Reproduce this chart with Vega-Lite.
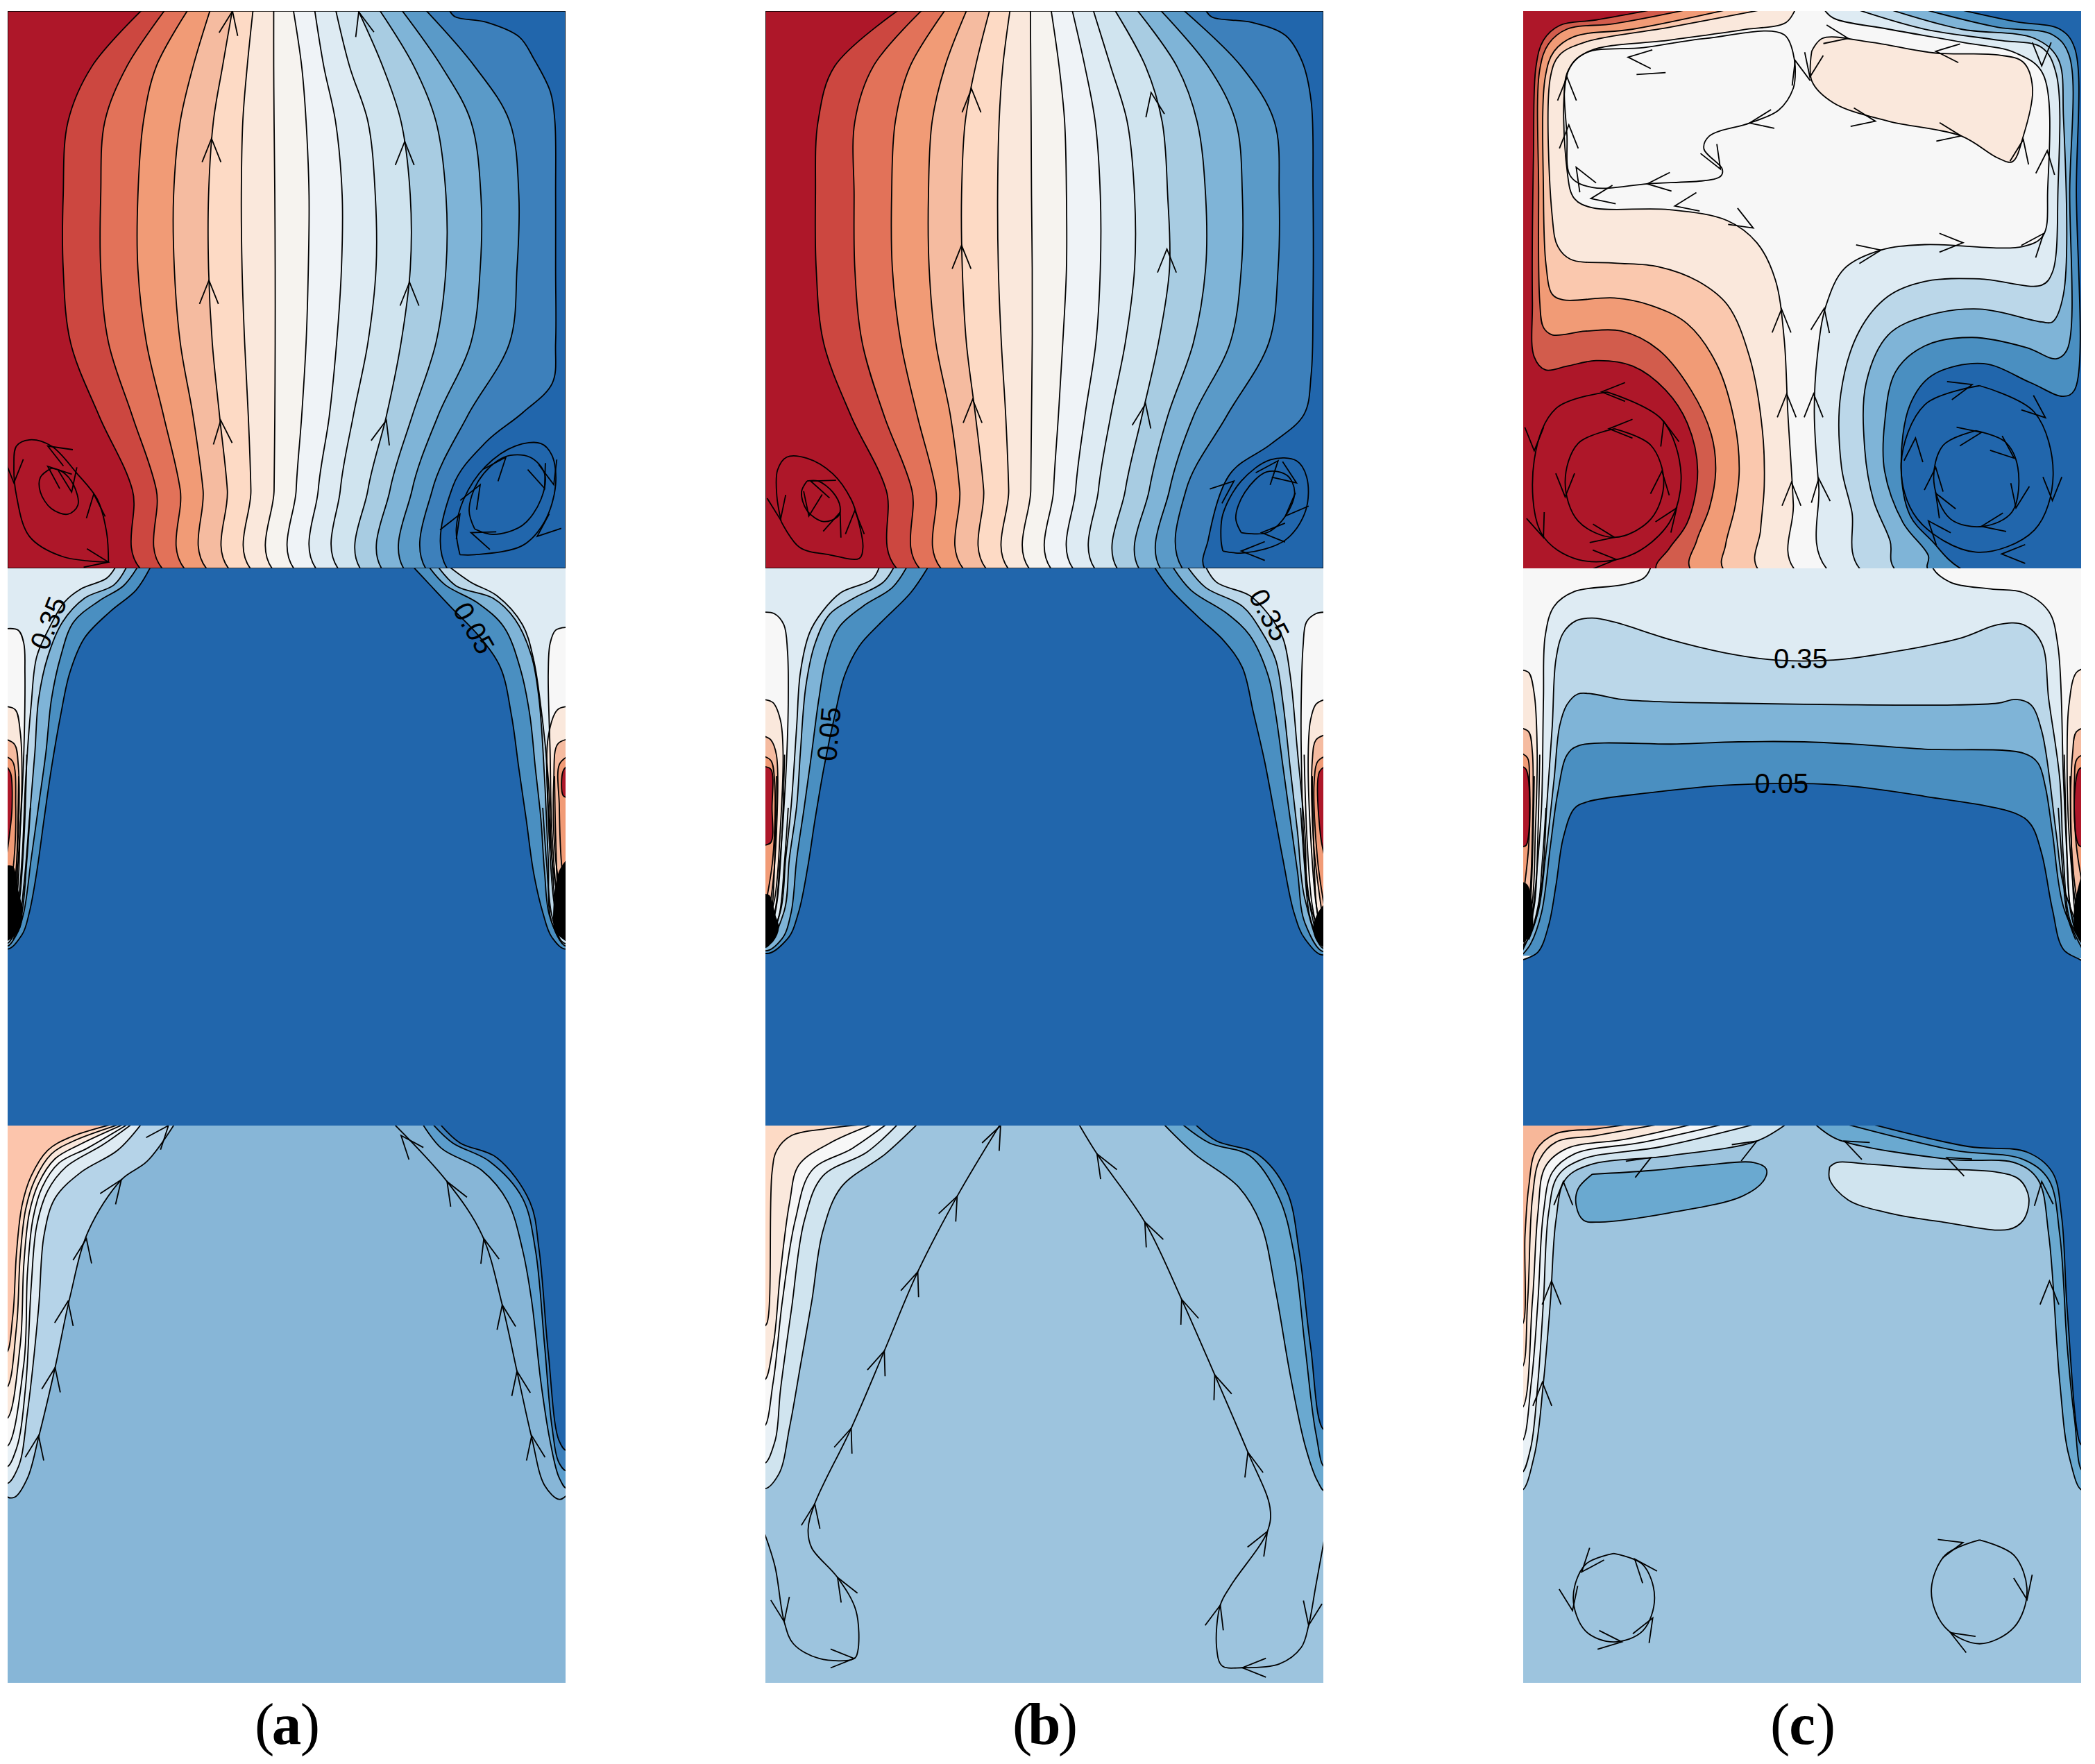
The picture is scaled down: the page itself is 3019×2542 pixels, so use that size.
{"$schema":"https://vega.github.io/schema/vega-lite/v6.json","padding":{"left":11,"top":16,"right":0,"bottom":0},"background":"white",
"datasets":{"lines":[
{"l":"A0","p":"1a","k":"r1"},{"l":"A1","p":"1a","k":"r2"},{"l":"A2","p":"1a","k":"r3"},{"l":"A3","p":"1a","k":"r4"},{"l":"A4","p":"1a","k":"r5"},{"l":"A5","p":"1a","k":"r6"},{"l":"A6","p":"1a","k":"r7"},{"l":"A7","p":"1a","k":"w"},{"l":"A8","p":"1a","k":"b7"},{"l":"A9","p":"1a","k":"b6"},{"l":"A10","p":"1a","k":"b5"},{"l":"A11","p":"1a","k":"b4"},{"l":"A12","p":"1a","k":"b3"},{"l":"A13","p":"1a","k":"b2"},{"l":"A14","p":"1a","k":"b1"},{"l":"A15","p":"1a","k":"b0"},{"l":"As1","p":"1a","k":"_s"},{"l":"As2","p":"1a","k":"_s"},{"l":"As3","p":"1a","k":"_s"},{"l":"As4","p":"1a","k":"_s"},{"l":"Aa","p":"1a","k":"_a"},{"l":"Ax","p":"1a","k":"_x"},
{"l":"B0","p":"1b","k":"r1"},{"l":"B1","p":"1b","k":"r2"},{"l":"B2","p":"1b","k":"r3"},{"l":"B3","p":"1b","k":"r4"},{"l":"B4","p":"1b","k":"r5"},{"l":"B5","p":"1b","k":"r6"},{"l":"B6","p":"1b","k":"r7"},{"l":"B7","p":"1b","k":"w"},{"l":"B8","p":"1b","k":"b7"},{"l":"B9","p":"1b","k":"b6"},{"l":"B10","p":"1b","k":"b5"},{"l":"B11","p":"1b","k":"b4"},{"l":"B12","p":"1b","k":"b3"},{"l":"B13","p":"1b","k":"b2"},{"l":"B14","p":"1b","k":"b1"},{"l":"B15","p":"1b","k":"b0"},{"l":"Bs1","p":"1b","k":"_s"},{"l":"Bs2","p":"1b","k":"_s"},{"l":"Bs3","p":"1b","k":"_s"},{"l":"Bs4","p":"1b","k":"_s"},{"l":"Ba","p":"1b","k":"_a"},{"l":"Bx","p":"1b","k":"_x"},
{"l":"C0","p":"1c","k":"r1"},{"l":"C1","p":"1c","k":"r2c"},{"l":"C2","p":"1c","k":"r4"},{"l":"C3","p":"1c","k":"p3"},{"l":"C4","p":"1c","k":"r7"},{"l":"C5","p":"1c","k":"ww"},{"l":"C6","p":"1c","k":"b6"},{"l":"C7","p":"1c","k":"b5c"},{"l":"C8","p":"1c","k":"b3"},{"l":"C9","p":"1c","k":"b1c"},{"l":"C10","p":"1c","k":"b0"},{"l":"C11","p":"1c","k":"r7"},{"l":"Cs1","p":"1c","k":"_s"},{"l":"Cs2","p":"1c","k":"_s"},{"l":"Cs3","p":"1c","k":"_s"},{"l":"Cs4","p":"1c","k":"_s"},{"l":"Cs5","p":"1c","k":"_s"},{"l":"Cs6","p":"1c","k":"_s"},{"l":"Ca","p":"1c","k":"_a"},
{"l":"D0","p":"2a","k":"b0"},{"l":"D1","p":"2a","k":"b1c"},{"l":"D2","p":"2a","k":"b3"},{"l":"D3","p":"2a","k":"b5c"},{"l":"D4","p":"2a","k":"b6"},{"l":"D5","p":"2a","k":"ww"},{"l":"D6","p":"2a","k":"r7"},{"l":"D7","p":"2a","k":"r5"},{"l":"D8","p":"2a","k":"r4"},{"l":"D9","p":"2a","k":"r1"},{"l":"D10","p":"2a","k":"kk"},{"l":"D11","p":"2a","k":"b1c"},{"l":"D12","p":"2a","k":"b3"},{"l":"D13","p":"2a","k":"b5c"},{"l":"D14","p":"2a","k":"b6"},{"l":"D15","p":"2a","k":"ww"},{"l":"D16","p":"2a","k":"r7"},{"l":"D17","p":"2a","k":"r5"},{"l":"D18","p":"2a","k":"r4"},{"l":"D19","p":"2a","k":"r1"},{"l":"D20","p":"2a","k":"kk"},{"l":"Dt","p":"2a","k":"_t"},{"l":"Ds1","p":"2a","k":"_s"},{"l":"Ds2","p":"2a","k":"_s"},{"l":"Ds3","p":"2a","k":"_s"},{"l":"Ds4","p":"2a","k":"_s"},{"l":"Ds5","p":"2a","k":"_s"},{"l":"Ds6","p":"2a","k":"_s"},
{"l":"E0","p":"2b","k":"b0"},{"l":"E1","p":"2b","k":"b1c"},{"l":"E2","p":"2b","k":"b3"},{"l":"E3","p":"2b","k":"b5c"},{"l":"E4","p":"2b","k":"b6"},{"l":"E5","p":"2b","k":"ww"},{"l":"E6","p":"2b","k":"r7"},{"l":"E7","p":"2b","k":"r5"},{"l":"E8","p":"2b","k":"r4"},{"l":"E9","p":"2b","k":"r1"},{"l":"E10","p":"2b","k":"kk"},{"l":"E11","p":"2b","k":"b1c"},{"l":"E12","p":"2b","k":"b3"},{"l":"E13","p":"2b","k":"b5c"},{"l":"E14","p":"2b","k":"b6"},{"l":"E15","p":"2b","k":"ww"},{"l":"E16","p":"2b","k":"r7"},{"l":"E17","p":"2b","k":"r5"},{"l":"E18","p":"2b","k":"r4"},{"l":"E19","p":"2b","k":"r1"},{"l":"E20","p":"2b","k":"kk"},{"l":"Et","p":"2b","k":"_t"},{"l":"Es1","p":"2b","k":"_s"},{"l":"Es2","p":"2b","k":"_s"},{"l":"Es3","p":"2b","k":"_s"},{"l":"Es4","p":"2b","k":"_s"},{"l":"Es5","p":"2b","k":"_s"},{"l":"Es6","p":"2b","k":"_s"},
{"l":"F0","p":"2c","k":"ww"},{"l":"F1","p":"2c","k":"b6"},{"l":"F2","p":"2c","k":"b5c"},{"l":"F3","p":"2c","k":"b3"},{"l":"F4","p":"2c","k":"b1c"},{"l":"F5","p":"2c","k":"b0"},{"l":"F6","p":"2c","k":"r7"},{"l":"F7","p":"2c","k":"r5"},{"l":"F8","p":"2c","k":"r4"},{"l":"F9","p":"2c","k":"r1"},{"l":"F10","p":"2c","k":"kk"},{"l":"F11","p":"2c","k":"r7"},{"l":"F12","p":"2c","k":"r5"},{"l":"F13","p":"2c","k":"r4"},{"l":"F14","p":"2c","k":"r1"},{"l":"F15","p":"2c","k":"kk"},{"l":"Ft","p":"2c","k":"_t"},{"l":"Fs1","p":"2c","k":"_s"},{"l":"Fs2","p":"2c","k":"_s"},{"l":"Fs3","p":"2c","k":"_s"},{"l":"Fs4","p":"2c","k":"_s"},{"l":"Fs5","p":"2c","k":"_s"},{"l":"Fs6","p":"2c","k":"_s"},
{"l":"G0","p":"3a","k":"g"},{"l":"G1","p":"3a","k":"b4g"},{"l":"G2","p":"3a","k":"b6"},{"l":"G3","p":"3a","k":"e"},{"l":"G4","p":"3a","k":"ww"},{"l":"G5","p":"3a","k":"r7"},{"l":"G6","p":"3a","k":"r6"},{"l":"G7","p":"3a","k":"p1"},{"l":"G8","p":"3a","k":"m2"},{"l":"G9","p":"3a","k":"b1"},{"l":"G10","p":"3a","k":"b0"},{"l":"Gs1","p":"3a","k":"_s"},{"l":"Ga","p":"3a","k":"_a"},{"l":"Gc","p":"3a","k":"_c"},{"l":"Gb","p":"3a","k":"_b"},
{"l":"H0","p":"3b","k":"h"},{"l":"H1","p":"3b","k":"b5"},{"l":"H2","p":"3b","k":"e"},{"l":"H3","p":"3b","k":"ww"},{"l":"H4","p":"3b","k":"r7"},{"l":"H5","p":"3b","k":"r6"},{"l":"H6","p":"3b","k":"m1"},{"l":"H7","p":"3b","k":"b1c"},{"l":"H8","p":"3b","k":"b0"},{"l":"Hs1","p":"3b","k":"_s"},{"l":"Hs2","p":"3b","k":"_s"},{"l":"Ha","p":"3b","k":"_a"},{"l":"Hc","p":"3b","k":"_c"},{"l":"Hb","p":"3b","k":"_b"},
{"l":"I0","p":"3c","k":"h"},{"l":"I1","p":"3c","k":"b5"},{"l":"I2","p":"3c","k":"e"},{"l":"I3","p":"3c","k":"ww"},{"l":"I4","p":"3c","k":"r7"},{"l":"I5","p":"3c","k":"r6"},{"l":"I6","p":"3c","k":"p2"},{"l":"I7","p":"3c","k":"m1"},{"l":"I8","p":"3c","k":"b1c"},{"l":"I9","p":"3c","k":"b0"},{"l":"I10","p":"3c","k":"m1"},{"l":"I11","p":"3c","k":"b5"},{"l":"Is1","p":"3c","k":"_s"},{"l":"Is2","p":"3c","k":"_s"},{"l":"Ia","p":"3c","k":"_a"},{"l":"Ic","p":"3c","k":"_c"},{"l":"Ib","p":"3c","k":"_b"}
],
"pts":[
{"l":"A0","x":-300,"y":-300},{"l":"A0","x":1900,"y":-300},{"l":"A0","x":1900,"y":1900},{"l":"A0","x":-300,"y":1900},
{"l":"A1","x":367,"y":-5},{"l":"A1","x":229,"y":150},{"l":"A1","x":164,"y":300},{"l":"A1","x":151,"y":500},{"l":"A1","x":151,"y":700},{"l":"A1","x":171,"y":900},{"l":"A1","x":249,"y":1100},{"l":"A1","x":339,"y":1300},{"l":"A1","x":364,"y":1518},{"l":"A1","x":2000,"y":1800},{"l":"A1","x":2000,"y":-300},
{"l":"A2","x":429,"y":-5},{"l":"A2","x":324,"y":150},{"l":"A2","x":264,"y":300},{"l":"A2","x":253,"y":500},{"l":"A2","x":253,"y":700},{"l":"A2","x":274,"y":900},{"l":"A2","x":339,"y":1100},{"l":"A2","x":404,"y":1300},{"l":"A2","x":424,"y":1518},{"l":"A2","x":2000,"y":1800},{"l":"A2","x":2000,"y":-300},
{"l":"A3","x":491,"y":-5},{"l":"A3","x":404,"y":150},{"l":"A3","x":369,"y":300},{"l":"A3","x":354,"y":500},{"l":"A3","x":354,"y":700},{"l":"A3","x":377,"y":900},{"l":"A3","x":424,"y":1100},{"l":"A3","x":469,"y":1300},{"l":"A3","x":484,"y":1518},{"l":"A3","x":2000,"y":1800},{"l":"A3","x":2000,"y":-300},
{"l":"A4","x":551,"y":-5},{"l":"A4","x":504,"y":150},{"l":"A4","x":469,"y":300},{"l":"A4","x":451,"y":500},{"l":"A4","x":453,"y":700},{"l":"A4","x":469,"y":900},{"l":"A4","x":504,"y":1100},{"l":"A4","x":531,"y":1300},{"l":"A4","x":544,"y":1518},{"l":"A4","x":2000,"y":1800},{"l":"A4","x":2000,"y":-300},
{"l":"A5","x":611,"y":-5},{"l":"A5","x":584,"y":150},{"l":"A5","x":559,"y":300},{"l":"A5","x":546,"y":500},{"l":"A5","x":546,"y":700},{"l":"A5","x":556,"y":900},{"l":"A5","x":576,"y":1100},{"l":"A5","x":597,"y":1300},{"l":"A5","x":604,"y":1518},{"l":"A5","x":2000,"y":1800},{"l":"A5","x":2000,"y":-300},
{"l":"A6","x":667,"y":-5},{"l":"A6","x":651,"y":150},{"l":"A6","x":639,"y":300},{"l":"A6","x":635,"y":500},{"l":"A6","x":637,"y":700},{"l":"A6","x":644,"y":900},{"l":"A6","x":654,"y":1100},{"l":"A6","x":661,"y":1300},{"l":"A6","x":663,"y":1518},{"l":"A6","x":2000,"y":1800},{"l":"A6","x":2000,"y":-300},
{"l":"A7","x":723,"y":-5},{"l":"A7","x":723,"y":150},{"l":"A7","x":724,"y":300},{"l":"A7","x":726,"y":500},{"l":"A7","x":727,"y":700},{"l":"A7","x":727,"y":900},{"l":"A7","x":726,"y":1100},{"l":"A7","x":724,"y":1300},{"l":"A7","x":722,"y":1518},{"l":"A7","x":2000,"y":1800},{"l":"A7","x":2000,"y":-300},
{"l":"A8","x":776,"y":-5},{"l":"A8","x":799,"y":150},{"l":"A8","x":811,"y":300},{"l":"A8","x":819,"y":500},{"l":"A8","x":817,"y":700},{"l":"A8","x":811,"y":900},{"l":"A8","x":799,"y":1100},{"l":"A8","x":784,"y":1300},{"l":"A8","x":781,"y":1518},{"l":"A8","x":2000,"y":1800},{"l":"A8","x":2000,"y":-300},
{"l":"A9","x":834,"y":-5},{"l":"A9","x":859,"y":150},{"l":"A9","x":891,"y":300},{"l":"A9","x":909,"y":500},{"l":"A9","x":907,"y":700},{"l":"A9","x":894,"y":900},{"l":"A9","x":874,"y":1100},{"l":"A9","x":844,"y":1300},{"l":"A9","x":841,"y":1518},{"l":"A9","x":2000,"y":1800},{"l":"A9","x":2000,"y":-300},
{"l":"A10","x":891,"y":-5},{"l":"A10","x":929,"y":150},{"l":"A10","x":979,"y":300},{"l":"A10","x":999,"y":500},{"l":"A10","x":1001,"y":700},{"l":"A10","x":979,"y":900},{"l":"A10","x":939,"y":1100},{"l":"A10","x":904,"y":1300},{"l":"A10","x":901,"y":1518},{"l":"A10","x":2000,"y":1800},{"l":"A10","x":2000,"y":-300},
{"l":"A11","x":951,"y":-5},{"l":"A11","x":1019,"y":150},{"l":"A11","x":1069,"y":300},{"l":"A11","x":1094,"y":500},{"l":"A11","x":1094,"y":700},{"l":"A11","x":1069,"y":900},{"l":"A11","x":1029,"y":1100},{"l":"A11","x":979,"y":1300},{"l":"A11","x":961,"y":1518},{"l":"A11","x":2000,"y":1800},{"l":"A11","x":2000,"y":-300},
{"l":"A12","x":1009,"y":-5},{"l":"A12","x":1104,"y":150},{"l":"A12","x":1164,"y":300},{"l":"A12","x":1191,"y":500},{"l":"A12","x":1191,"y":700},{"l":"A12","x":1164,"y":900},{"l":"A12","x":1099,"y":1100},{"l":"A12","x":1039,"y":1300},{"l":"A12","x":1019,"y":1518},{"l":"A12","x":2000,"y":1800},{"l":"A12","x":2000,"y":-300},
{"l":"A13","x":1069,"y":-5},{"l":"A13","x":1179,"y":150},{"l":"A13","x":1259,"y":300},{"l":"A13","x":1286,"y":500},{"l":"A13","x":1284,"y":700},{"l":"A13","x":1259,"y":900},{"l":"A13","x":1169,"y":1100},{"l":"A13","x":1099,"y":1300},{"l":"A13","x":1079,"y":1518},{"l":"A13","x":2000,"y":1800},{"l":"A13","x":2000,"y":-300},
{"l":"A14","x":1134,"y":-5},{"l":"A14","x":1269,"y":150},{"l":"A14","x":1364,"y":300},{"l":"A14","x":1389,"y":500},{"l":"A14","x":1384,"y":700},{"l":"A14","x":1364,"y":900},{"l":"A14","x":1249,"y":1100},{"l":"A14","x":1154,"y":1300},{"l":"A14","x":1139,"y":1518},{"l":"A14","x":2000,"y":1800},{"l":"A14","x":2000,"y":-300},
{"l":"A15","x":1199,"y":-5},{"l":"A15","x":1215,"y":15},{"l":"A15","x":1300,"y":30},{"l":"A15","x":1390,"y":70},{"l":"A15","x":1430,"y":130},{"l":"A15","x":1475,"y":220},{"l":"A15","x":1487,"y":300},{"l":"A15","x":1489,"y":500},{"l":"A15","x":1489,"y":700},{"l":"A15","x":1489,"y":900},{"l":"A15","x":1480,"y":1010},{"l":"A15","x":1400,"y":1090},{"l":"A15","x":1300,"y":1170},{"l":"A15","x":1210,"y":1290},{"l":"A15","x":1197,"y":1518},{"l":"A15","x":2000,"y":1800},{"l":"A15","x":2000,"y":-300},
{"l":"As1","x":274,"y":1496},{"l":"As1","x":149,"y":1481},{"l":"As1","x":59,"y":1426},{"l":"As1","x":24,"y":1316},{"l":"As1","x":17,"y":1236},{"l":"As1","x":24,"y":1181},{"l":"As1","x":59,"y":1164},{"l":"As1","x":119,"y":1181},{"l":"As1","x":189,"y":1256},{"l":"As1","x":244,"y":1326},{"l":"As1","x":269,"y":1416},{"l":"As1","x":274,"y":1496},
{"l":"As2","x":119,"y":1241},{"l":"As2","x":89,"y":1266},{"l":"As2","x":89,"y":1306},{"l":"As2","x":119,"y":1351},{"l":"As2","x":164,"y":1366},{"l":"As2","x":191,"y":1341},{"l":"As2","x":179,"y":1286},{"l":"As2","x":149,"y":1251},{"l":"As2","x":119,"y":1241},
{"l":"As3","x":1229,"y":1476},{"l":"As3","x":1269,"y":1476},{"l":"As3","x":1399,"y":1451},{"l":"As3","x":1459,"y":1386},{"l":"As3","x":1489,"y":1286},{"l":"As3","x":1479,"y":1206},{"l":"As3","x":1449,"y":1174},{"l":"As3","x":1379,"y":1181},{"l":"As3","x":1299,"y":1236},{"l":"As3","x":1239,"y":1326},{"l":"As3","x":1219,"y":1406},{"l":"As3","x":1229,"y":1476},
{"l":"As4","x":1269,"y":1406},{"l":"As4","x":1319,"y":1421},{"l":"As4","x":1399,"y":1396},{"l":"As4","x":1449,"y":1326},{"l":"As4","x":1459,"y":1256},{"l":"As4","x":1419,"y":1211},{"l":"As4","x":1349,"y":1211},{"l":"As4","x":1279,"y":1276},{"l":"As4","x":1254,"y":1356},{"l":"As4","x":1269,"y":1406},
{"l":"Aa","x":554,"y":346,"a":0},{"l":"Aa","x":547,"y":731,"a":0},{"l":"Aa","x":579,"y":1111,"a":-5},{"l":"Aa","x":611,"y":0,"a":10},{"l":"Aa","x":1079,"y":354,"a":0},{"l":"Aa","x":1092,"y":736,"a":0},{"l":"Aa","x":1029,"y":1111,"a":15},{"l":"Aa","x":954,"y":2,"a":-15},{"l":"Aa","x":17,"y":1281,"a":180},{"l":"Aa","x":109,"y":1181,"a":-60},{"l":"Aa","x":234,"y":1311,"a":-5},{"l":"Aa","x":274,"y":1496,"a":100},{"l":"Aa","x":109,"y":1236,"a":-50},{"l":"Aa","x":174,"y":1306,"a":170},{"l":"Aa","x":1284,"y":1286,"a":30},{"l":"Aa","x":1354,"y":1211,"a":40},{"l":"Aa","x":1459,"y":1296,"a":160},{"l":"Aa","x":1484,"y":1286,"a":165},{"l":"Aa","x":1439,"y":1426,"a":-130},{"l":"Aa","x":1259,"y":1416,"a":-70},{"l":"Aa","x":1229,"y":1366,"a":30},
{"l":"Ax","x":0,"y":0},{"l":"Ax","x":1516,"y":0},{"l":"Ax","x":1516,"y":1513},{"l":"Ax","x":0,"y":1513},{"l":"Ax","x":0,"y":0},
{"l":"B0","x":-300,"y":-300},{"l":"B0","x":1900,"y":-300},{"l":"B0","x":1900,"y":1900},{"l":"B0","x":-300,"y":1900},
{"l":"B1","x":365,"y":-5},{"l":"B1","x":188,"y":150},{"l":"B1","x":143,"y":300},{"l":"B1","x":136,"y":500},{"l":"B1","x":138,"y":700},{"l":"B1","x":158,"y":900},{"l":"B1","x":233,"y":1100},{"l":"B1","x":328,"y":1300},{"l":"B1","x":361,"y":1518},{"l":"B1","x":2000,"y":1800},{"l":"B1","x":2000,"y":-300},
{"l":"B2","x":428,"y":-5},{"l":"B2","x":293,"y":150},{"l":"B2","x":243,"y":300},{"l":"B2","x":241,"y":500},{"l":"B2","x":243,"y":700},{"l":"B2","x":263,"y":900},{"l":"B2","x":323,"y":1100},{"l":"B2","x":398,"y":1300},{"l":"B2","x":423,"y":1518},{"l":"B2","x":2000,"y":1800},{"l":"B2","x":2000,"y":-300},
{"l":"B3","x":490,"y":-5},{"l":"B3","x":393,"y":150},{"l":"B3","x":353,"y":300},{"l":"B3","x":343,"y":500},{"l":"B3","x":345,"y":700},{"l":"B3","x":368,"y":900},{"l":"B3","x":413,"y":1100},{"l":"B3","x":463,"y":1300},{"l":"B3","x":481,"y":1518},{"l":"B3","x":2000,"y":1800},{"l":"B3","x":2000,"y":-300},
{"l":"B4","x":548,"y":-5},{"l":"B4","x":488,"y":150},{"l":"B4","x":453,"y":300},{"l":"B4","x":443,"y":500},{"l":"B4","x":445,"y":700},{"l":"B4","x":463,"y":900},{"l":"B4","x":503,"y":1100},{"l":"B4","x":528,"y":1300},{"l":"B4","x":541,"y":1518},{"l":"B4","x":2000,"y":1800},{"l":"B4","x":2000,"y":-300},
{"l":"B5","x":610,"y":-5},{"l":"B5","x":571,"y":150},{"l":"B5","x":543,"y":300},{"l":"B5","x":533,"y":500},{"l":"B5","x":535,"y":700},{"l":"B5","x":546,"y":900},{"l":"B5","x":571,"y":1100},{"l":"B5","x":593,"y":1300},{"l":"B5","x":603,"y":1518},{"l":"B5","x":2000,"y":1800},{"l":"B5","x":2000,"y":-300},
{"l":"B6","x":665,"y":-5},{"l":"B6","x":645,"y":150},{"l":"B6","x":635,"y":300},{"l":"B6","x":631,"y":500},{"l":"B6","x":633,"y":700},{"l":"B6","x":641,"y":900},{"l":"B6","x":653,"y":1100},{"l":"B6","x":661,"y":1300},{"l":"B6","x":663,"y":1518},{"l":"B6","x":2000,"y":1800},{"l":"B6","x":2000,"y":-300},
{"l":"B7","x":720,"y":-5},{"l":"B7","x":721,"y":150},{"l":"B7","x":722,"y":300},{"l":"B7","x":723,"y":500},{"l":"B7","x":725,"y":700},{"l":"B7","x":725,"y":900},{"l":"B7","x":723,"y":1100},{"l":"B7","x":721,"y":1300},{"l":"B7","x":720,"y":1518},{"l":"B7","x":2000,"y":1800},{"l":"B7","x":2000,"y":-300},
{"l":"B8","x":776,"y":-5},{"l":"B8","x":798,"y":150},{"l":"B8","x":813,"y":300},{"l":"B8","x":818,"y":500},{"l":"B8","x":818,"y":700},{"l":"B8","x":808,"y":900},{"l":"B8","x":796,"y":1100},{"l":"B8","x":783,"y":1300},{"l":"B8","x":779,"y":1518},{"l":"B8","x":2000,"y":1800},{"l":"B8","x":2000,"y":-300},
{"l":"B9","x":833,"y":-5},{"l":"B9","x":868,"y":150},{"l":"B9","x":896,"y":300},{"l":"B9","x":910,"y":500},{"l":"B9","x":910,"y":700},{"l":"B9","x":898,"y":900},{"l":"B9","x":868,"y":1100},{"l":"B9","x":843,"y":1300},{"l":"B9","x":839,"y":1518},{"l":"B9","x":2000,"y":1800},{"l":"B9","x":2000,"y":-300},
{"l":"B10","x":890,"y":-5},{"l":"B10","x":938,"y":150},{"l":"B10","x":983,"y":300},{"l":"B10","x":1003,"y":500},{"l":"B10","x":1003,"y":700},{"l":"B10","x":978,"y":900},{"l":"B10","x":938,"y":1100},{"l":"B10","x":905,"y":1300},{"l":"B10","x":898,"y":1518},{"l":"B10","x":2000,"y":1800},{"l":"B10","x":2000,"y":-300},
{"l":"B11","x":948,"y":-5},{"l":"B11","x":1033,"y":150},{"l":"B11","x":1078,"y":300},{"l":"B11","x":1093,"y":500},{"l":"B11","x":1098,"y":700},{"l":"B11","x":1068,"y":900},{"l":"B11","x":1023,"y":1100},{"l":"B11","x":978,"y":1300},{"l":"B11","x":959,"y":1518},{"l":"B11","x":2000,"y":1800},{"l":"B11","x":2000,"y":-300},
{"l":"B12","x":1008,"y":-5},{"l":"B12","x":1118,"y":150},{"l":"B12","x":1173,"y":300},{"l":"B12","x":1196,"y":500},{"l":"B12","x":1196,"y":700},{"l":"B12","x":1163,"y":900},{"l":"B12","x":1093,"y":1100},{"l":"B12","x":1043,"y":1300},{"l":"B12","x":1018,"y":1518},{"l":"B12","x":2000,"y":1800},{"l":"B12","x":2000,"y":-300},
{"l":"B13","x":1071,"y":-5},{"l":"B13","x":1203,"y":150},{"l":"B13","x":1278,"y":300},{"l":"B13","x":1296,"y":500},{"l":"B13","x":1293,"y":700},{"l":"B13","x":1263,"y":900},{"l":"B13","x":1163,"y":1100},{"l":"B13","x":1098,"y":1300},{"l":"B13","x":1076,"y":1518},{"l":"B13","x":2000,"y":1800},{"l":"B13","x":2000,"y":-300},
{"l":"B14","x":1133,"y":-5},{"l":"B14","x":1293,"y":150},{"l":"B14","x":1383,"y":300},{"l":"B14","x":1396,"y":500},{"l":"B14","x":1393,"y":700},{"l":"B14","x":1368,"y":900},{"l":"B14","x":1253,"y":1100},{"l":"B14","x":1143,"y":1300},{"l":"B14","x":1136,"y":1518},{"l":"B14","x":2000,"y":1800},{"l":"B14","x":2000,"y":-300},
{"l":"B15","x":1195,"y":-5},{"l":"B15","x":1213,"y":16},{"l":"B15","x":1323,"y":31},{"l":"B15","x":1413,"y":66},{"l":"B15","x":1458,"y":136},{"l":"B15","x":1483,"y":246},{"l":"B15","x":1488,"y":486},{"l":"B15","x":1488,"y":786},{"l":"B15","x":1483,"y":986},{"l":"B15","x":1463,"y":1096},{"l":"B15","x":1373,"y":1176},{"l":"B15","x":1263,"y":1256},{"l":"B15","x":1203,"y":1436},{"l":"B15","x":1196,"y":1518},{"l":"B15","x":2000,"y":1800},{"l":"B15","x":2000,"y":-300},
{"l":"Bs1","x":43,"y":1386},{"l":"Bs1","x":93,"y":1456},{"l":"Bs1","x":173,"y":1476},{"l":"Bs1","x":255,"y":1486},{"l":"Bs1","x":265,"y":1456},{"l":"Bs1","x":253,"y":1386},{"l":"Bs1","x":233,"y":1326},{"l":"Bs1","x":183,"y":1256},{"l":"Bs1","x":113,"y":1214},{"l":"Bs1","x":58,"y":1211},{"l":"Bs1","x":33,"y":1246},{"l":"Bs1","x":31,"y":1316},{"l":"Bs1","x":43,"y":1386},
{"l":"Bs2","x":113,"y":1276},{"l":"Bs2","x":98,"y":1306},{"l":"Bs2","x":113,"y":1356},{"l":"Bs2","x":158,"y":1386},{"l":"Bs2","x":198,"y":1371},{"l":"Bs2","x":203,"y":1346},{"l":"Bs2","x":183,"y":1306},{"l":"Bs2","x":143,"y":1276},{"l":"Bs2","x":113,"y":1276},
{"l":"Bs3","x":1243,"y":1466},{"l":"Bs3","x":1303,"y":1471},{"l":"Bs3","x":1413,"y":1436},{"l":"Bs3","x":1468,"y":1356},{"l":"Bs3","x":1471,"y":1266},{"l":"Bs3","x":1443,"y":1221},{"l":"Bs3","x":1373,"y":1218},{"l":"Bs3","x":1293,"y":1276},{"l":"Bs3","x":1243,"y":1366},{"l":"Bs3","x":1238,"y":1436},{"l":"Bs3","x":1243,"y":1466},
{"l":"Bs4","x":1293,"y":1416},{"l":"Bs4","x":1363,"y":1416},{"l":"Bs4","x":1413,"y":1371},{"l":"Bs4","x":1438,"y":1306},{"l":"Bs4","x":1418,"y":1261},{"l":"Bs4","x":1363,"y":1251},{"l":"Bs4","x":1303,"y":1306},{"l":"Bs4","x":1278,"y":1376},{"l":"Bs4","x":1293,"y":1416},
{"l":"Ba","x":560,"y":211,"a":0},{"l":"Ba","x":533,"y":636,"a":0},{"l":"Ba","x":563,"y":1054,"a":0},{"l":"Ba","x":1048,"y":221,"a":-10},{"l":"Ba","x":1091,"y":646,"a":0},{"l":"Ba","x":1033,"y":1066,"a":10},{"l":"Ba","x":41,"y":1381,"a":170},{"l":"Ba","x":243,"y":1356,"a":0},{"l":"Ba","x":123,"y":1276,"a":-70},{"l":"Ba","x":118,"y":1371,"a":-170},{"l":"Ba","x":203,"y":1361,"a":20},{"l":"Ba","x":1393,"y":1221,"a":40},{"l":"Ba","x":1443,"y":1281,"a":125},{"l":"Ba","x":1293,"y":1466,"a":-90},{"l":"Ba","x":1413,"y":1371,"a":-135},{"l":"Ba","x":1273,"y":1276,"a":50},{"l":"Ba","x":1348,"y":1416,"a":-90},
{"l":"Bx","x":0,"y":0},{"l":"Bx","x":1516,"y":0},{"l":"Bx","x":1516,"y":1513},{"l":"Bx","x":0,"y":1513},{"l":"Bx","x":0,"y":0},
{"l":"C0","x":-300,"y":-300},{"l":"C0","x":1900,"y":-300},{"l":"C0","x":1900,"y":1900},{"l":"C0","x":-300,"y":1900},
{"l":"C1","x":352,"y":-4},{"l":"C1","x":198,"y":24},{"l":"C1","x":99,"y":39},{"l":"C1","x":55,"y":79},{"l":"C1","x":35,"y":149},{"l":"C1","x":28,"y":389},{"l":"C1","x":25,"y":789},{"l":"C1","x":30,"y":939},{"l":"C1","x":60,"y":974},{"l":"C1","x":119,"y":964},{"l":"C1","x":198,"y":949},{"l":"C1","x":298,"y":964},{"l":"C1","x":387,"y":1029},{"l":"C1","x":446,"y":1119},{"l":"C1","x":474,"y":1249},{"l":"C1","x":446,"y":1389},{"l":"C1","x":397,"y":1459},{"l":"C1","x":362,"y":1518},{"l":"C1","x":2000,"y":1800},{"l":"C1","x":2000,"y":-300},
{"l":"C2","x":446,"y":-4},{"l":"C2","x":248,"y":34},{"l":"C2","x":119,"y":49},{"l":"C2","x":69,"y":89},{"l":"C2","x":45,"y":159},{"l":"C2","x":42,"y":489},{"l":"C2","x":45,"y":789},{"l":"C2","x":55,"y":859},{"l":"C2","x":79,"y":879},{"l":"C2","x":169,"y":869},{"l":"C2","x":268,"y":869},{"l":"C2","x":367,"y":919},{"l":"C2","x":456,"y":1029},{"l":"C2","x":511,"y":1149},{"l":"C2","x":523,"y":1249},{"l":"C2","x":506,"y":1349},{"l":"C2","x":471,"y":1439},{"l":"C2","x":456,"y":1518},{"l":"C2","x":2000,"y":1800},{"l":"C2","x":2000,"y":-300},
{"l":"C3","x":555,"y":-4},{"l":"C3","x":298,"y":49},{"l":"C3","x":139,"y":69},{"l":"C3","x":84,"y":109},{"l":"C3","x":60,"y":179},{"l":"C3","x":55,"y":489},{"l":"C3","x":62,"y":689},{"l":"C3","x":79,"y":769},{"l":"C3","x":109,"y":784},{"l":"C3","x":248,"y":779},{"l":"C3","x":347,"y":799},{"l":"C3","x":446,"y":849},{"l":"C3","x":526,"y":959},{"l":"C3","x":575,"y":1119},{"l":"C3","x":587,"y":1249},{"l":"C3","x":575,"y":1349},{"l":"C3","x":550,"y":1449},{"l":"C3","x":546,"y":1518},{"l":"C3","x":2000,"y":1800},{"l":"C3","x":2000,"y":-300},
{"l":"C4","x":650,"y":-4},{"l":"C4","x":397,"y":44},{"l":"C4","x":169,"y":84},{"l":"C4","x":99,"y":119},{"l":"C4","x":74,"y":179},{"l":"C4","x":79,"y":559},{"l":"C4","x":94,"y":639},{"l":"C4","x":129,"y":674},{"l":"C4","x":248,"y":684},{"l":"C4","x":367,"y":694},{"l":"C4","x":476,"y":734},{"l":"C4","x":556,"y":799},{"l":"C4","x":615,"y":939},{"l":"C4","x":650,"y":1139},{"l":"C4","x":655,"y":1289},{"l":"C4","x":645,"y":1409},{"l":"C4","x":640,"y":1518},{"l":"C4","x":2000,"y":1800},{"l":"C4","x":2000,"y":-300},
{"l":"C5","x":739,"y":-4},{"l":"C5","x":714,"y":31},{"l":"C5","x":595,"y":51},{"l":"C5","x":397,"y":79},{"l":"C5","x":179,"y":109},{"l":"C5","x":124,"y":159},{"l":"C5","x":120,"y":439},{"l":"C5","x":139,"y":509},{"l":"C5","x":188,"y":534},{"l":"C5","x":397,"y":539},{"l":"C5","x":555,"y":569},{"l":"C5","x":635,"y":629},{"l":"C5","x":685,"y":729},{"l":"C5","x":709,"y":889},{"l":"C5","x":719,"y":1089},{"l":"C5","x":734,"y":1339},{"l":"C5","x":739,"y":1518},{"l":"C5","x":2000,"y":1800},{"l":"C5","x":2000,"y":-300},
{"l":"C6","x":818,"y":-4},{"l":"C6","x":843,"y":19},{"l":"C6","x":992,"y":49},{"l":"C6","x":1190,"y":84},{"l":"C6","x":1339,"y":114},{"l":"C6","x":1412,"y":170},{"l":"C6","x":1425,"y":489},{"l":"C6","x":1413,"y":609},{"l":"C6","x":1359,"y":639},{"l":"C6","x":1091,"y":634},{"l":"C6","x":972,"y":649},{"l":"C6","x":873,"y":699},{"l":"C6","x":823,"y":799},{"l":"C6","x":799,"y":939},{"l":"C6","x":791,"y":1089},{"l":"C6","x":803,"y":1289},{"l":"C6","x":828,"y":1518},{"l":"C6","x":2000,"y":1800},{"l":"C6","x":2000,"y":-300},
{"l":"C7","x":908,"y":-4},{"l":"C7","x":1091,"y":49},{"l":"C7","x":1290,"y":79},{"l":"C7","x":1409,"y":99},{"l":"C7","x":1448,"y":169},{"l":"C7","x":1453,"y":489},{"l":"C7","x":1438,"y":709},{"l":"C7","x":1409,"y":744},{"l":"C7","x":1240,"y":727},{"l":"C7","x":1091,"y":734},{"l":"C7","x":992,"y":774},{"l":"C7","x":913,"y":869},{"l":"C7","x":863,"y":1039},{"l":"C7","x":865,"y":1239},{"l":"C7","x":893,"y":1359},{"l":"C7","x":918,"y":1518},{"l":"C7","x":2000,"y":1800},{"l":"C7","x":2000,"y":-300},
{"l":"C8","x":997,"y":-4},{"l":"C8","x":1190,"y":49},{"l":"C8","x":1389,"y":74},{"l":"C8","x":1453,"y":129},{"l":"C8","x":1468,"y":289},{"l":"C8","x":1468,"y":769},{"l":"C8","x":1438,"y":844},{"l":"C8","x":1409,"y":844},{"l":"C8","x":1240,"y":809},{"l":"C8","x":1091,"y":829},{"l":"C8","x":992,"y":879},{"l":"C8","x":932,"y":1009},{"l":"C8","x":928,"y":1189},{"l":"C8","x":952,"y":1329},{"l":"C8","x":997,"y":1439},{"l":"C8","x":1012,"y":1518},{"l":"C8","x":2000,"y":1800},{"l":"C8","x":2000,"y":-300},
{"l":"C9","x":1091,"y":-4},{"l":"C9","x":1290,"y":44},{"l":"C9","x":1438,"y":64},{"l":"C9","x":1483,"y":119},{"l":"C9","x":1485,"y":489},{"l":"C9","x":1478,"y":919},{"l":"C9","x":1448,"y":944},{"l":"C9","x":1369,"y":914},{"l":"C9","x":1220,"y":886},{"l":"C9","x":1091,"y":909},{"l":"C9","x":1012,"y":979},{"l":"C9","x":982,"y":1119},{"l":"C9","x":982,"y":1249},{"l":"C9","x":1032,"y":1389},{"l":"C9","x":1101,"y":1479},{"l":"C9","x":1101,"y":1518},{"l":"C9","x":2000,"y":1800},{"l":"C9","x":2000,"y":-300},
{"l":"C10","x":1186,"y":-4},{"l":"C10","x":1339,"y":29},{"l":"C10","x":1458,"y":49},{"l":"C10","x":1498,"y":99},{"l":"C10","x":1503,"y":489},{"l":"C10","x":1498,"y":1029},{"l":"C10","x":1468,"y":1046},{"l":"C10","x":1379,"y":1009},{"l":"C10","x":1250,"y":957},{"l":"C10","x":1111,"y":989},{"l":"C10","x":1051,"y":1069},{"l":"C10","x":1027,"y":1239},{"l":"C10","x":1051,"y":1369},{"l":"C10","x":1111,"y":1439},{"l":"C10","x":1195,"y":1518},{"l":"C10","x":2000,"y":1800},{"l":"C10","x":2000,"y":-300},
{"l":"C11","x":784,"y":109},{"l":"C11","x":813,"y":74},{"l":"C11","x":942,"y":84},{"l":"C11","x":1121,"y":114},{"l":"C11","x":1290,"y":119},{"l":"C11","x":1359,"y":139},{"l":"C11","x":1384,"y":209},{"l":"C11","x":1359,"y":339},{"l":"C11","x":1329,"y":409},{"l":"C11","x":1290,"y":399},{"l":"C11","x":1190,"y":339},{"l":"C11","x":992,"y":299},{"l":"C11","x":843,"y":249},{"l":"C11","x":784,"y":189},{"l":"C11","x":784,"y":109},
{"l":"Cs1","x":739,"y":149},{"l":"Cs1","x":709,"y":64},{"l":"Cs1","x":496,"y":74},{"l":"Cs1","x":327,"y":99},{"l":"Cs1","x":169,"y":114},{"l":"Cs1","x":119,"y":169},{"l":"Cs1","x":119,"y":339},{"l":"Cs1","x":129,"y":449},{"l":"Cs1","x":188,"y":479},{"l":"Cs1","x":337,"y":469},{"l":"Cs1","x":536,"y":449},{"l":"Cs1","x":541,"y":429},{"l":"Cs1","x":491,"y":374},{"l":"Cs1","x":506,"y":339},{"l":"Cs1","x":615,"y":304},{"l":"Cs1","x":694,"y":269},{"l":"Cs1","x":734,"y":209},{"l":"Cs1","x":739,"y":149},
{"l":"Cs2","x":308,"y":172},{"l":"Cs2","x":387,"y":167},
{"l":"Cs3","x":228,"y":1034},{"l":"Cs3","x":89,"y":1079},{"l":"Cs3","x":30,"y":1219},{"l":"Cs3","x":50,"y":1419},{"l":"Cs3","x":149,"y":1489},{"l":"Cs3","x":288,"y":1479},{"l":"Cs3","x":397,"y":1389},{"l":"Cs3","x":429,"y":1259},{"l":"Cs3","x":377,"y":1109},{"l":"Cs3","x":228,"y":1034},
{"l":"Cs4","x":248,"y":1134},{"l":"Cs4","x":149,"y":1174},{"l":"Cs4","x":114,"y":1279},{"l":"Cs4","x":149,"y":1384},{"l":"Cs4","x":248,"y":1429},{"l":"Cs4","x":347,"y":1379},{"l":"Cs4","x":382,"y":1279},{"l":"Cs4","x":347,"y":1179},{"l":"Cs4","x":248,"y":1134},
{"l":"Cs5","x":1240,"y":1017},{"l":"Cs5","x":1091,"y":1069},{"l":"Cs5","x":1027,"y":1229},{"l":"Cs5","x":1071,"y":1379},{"l":"Cs5","x":1230,"y":1469},{"l":"Cs5","x":1389,"y":1409},{"l":"Cs5","x":1440,"y":1259},{"l":"Cs5","x":1389,"y":1089},{"l":"Cs5","x":1240,"y":1017},
{"l":"Cs6","x":1230,"y":1139},{"l":"Cs6","x":1141,"y":1179},{"l":"Cs6","x":1116,"y":1279},{"l":"Cs6","x":1161,"y":1379},{"l":"Cs6","x":1250,"y":1399},{"l":"Cs6","x":1329,"y":1359},{"l":"Cs6","x":1344,"y":1239},{"l":"Cs6","x":1309,"y":1169},{"l":"Cs6","x":1230,"y":1139},
{"l":"Ca","x":702,"y":809,"a":0},{"l":"Ca","x":818,"y":807,"a":10},{"l":"Ca","x":716,"y":1039,"a":0},{"l":"Ca","x":789,"y":1039,"a":0},{"l":"Ca","x":729,"y":1279,"a":0},{"l":"Ca","x":803,"y":1269,"a":-5},{"l":"Ca","x":285,"y":125,"a":-85},{"l":"Ca","x":1121,"y":109,"a":-85},{"l":"Ca","x":883,"y":74,"a":100},{"l":"Ca","x":615,"y":304,"a":-100},{"l":"Ca","x":536,"y":429,"a":150},{"l":"Ca","x":337,"y":469,"a":-95},{"l":"Ca","x":184,"y":509,"a":-100},{"l":"Ca","x":412,"y":529,"a":-100},{"l":"Ca","x":625,"y":589,"a":120},{"l":"Ca","x":1195,"y":629,"a":90},{"l":"Ca","x":972,"y":649,"a":80},{"l":"Ca","x":1359,"y":349,"a":10},{"l":"Ca","x":1424,"y":379,"a":5},{"l":"Ca","x":1414,"y":604,"a":40},{"l":"Ca","x":1190,"y":339,"a":100},{"l":"Ca","x":957,"y":299,"a":100},{"l":"Ca","x":119,"y":179,"a":0},{"l":"Ca","x":124,"y":309,"a":0},{"l":"Ca","x":144,"y":424,"a":-30},{"l":"Ca","x":739,"y":134,"a":-15},{"l":"Ca","x":779,"y":179,"a":-170},{"l":"Ca","x":1409,"y":149,"a":180},{"l":"Ca","x":213,"y":1034,"a":-90},{"l":"Ca","x":382,"y":1114,"a":-15},{"l":"Ca","x":30,"y":1194,"a":180},{"l":"Ca","x":233,"y":1134,"a":-90},{"l":"Ca","x":377,"y":1249,"a":5},{"l":"Ca","x":114,"y":1319,"a":180},{"l":"Ca","x":417,"y":1349,"a":35},{"l":"Ca","x":248,"y":1429,"a":100},{"l":"Ca","x":55,"y":1429,"a":160},{"l":"Ca","x":253,"y":1489,"a":90},{"l":"Ca","x":1220,"y":1014,"a":75},{"l":"Ca","x":1419,"y":1104,"a":130},{"l":"Ca","x":1245,"y":1144,"a":80},{"l":"Ca","x":1334,"y":1214,"a":130},{"l":"Ca","x":1438,"y":1329,"a":180},{"l":"Ca","x":1339,"y":1349,"a":190},{"l":"Ca","x":1066,"y":1159,"a":5},{"l":"Ca","x":1121,"y":1239,"a":5},{"l":"Ca","x":1121,"y":1309,"a":-30},{"l":"Ca","x":1245,"y":1399,"a":-100},{"l":"Ca","x":1300,"y":1474,"a":-90},{"l":"Ca","x":1101,"y":1384,"a":-40},
{"l":"D0","x":-300,"y":-300},{"l":"D0","x":1900,"y":-300},{"l":"D0","x":1900,"y":1900},{"l":"D0","x":-300,"y":1900},
{"l":"D1","x":389,"y":-5},{"l":"D1","x":349,"y":59},{"l":"D1","x":279,"y":117},{"l":"D1","x":209,"y":189},{"l":"D1","x":169,"y":283},{"l":"D1","x":144,"y":399},{"l":"D1","x":119,"y":543},{"l":"D1","x":99,"y":681},{"l":"D1","x":79,"y":825},{"l":"D1","x":59,"y":934},{"l":"D1","x":39,"y":995},{"l":"D1","x":-5,"y":1033},{"l":"D1","x":-300,"y":-300},
{"l":"D2","x":354,"y":-5},{"l":"D2","x":314,"y":48},{"l":"D2","x":249,"y":88},{"l":"D2","x":179,"y":146},{"l":"D2","x":144,"y":240},{"l":"D2","x":119,"y":356},{"l":"D2","x":104,"y":500},{"l":"D2","x":84,"y":645},{"l":"D2","x":64,"y":789},{"l":"D2","x":44,"y":934},{"l":"D2","x":24,"y":995},{"l":"D2","x":-5,"y":1026},{"l":"D2","x":-300,"y":-300},
{"l":"D3","x":324,"y":-5},{"l":"D3","x":289,"y":45},{"l":"D3","x":209,"y":81},{"l":"D3","x":149,"y":146},{"l":"D3","x":109,"y":240},{"l":"D3","x":84,"y":356},{"l":"D3","x":74,"y":500},{"l":"D3","x":59,"y":681},{"l":"D3","x":44,"y":861},{"l":"D3","x":29,"y":963},{"l":"D3","x":-5,"y":1019},{"l":"D3","x":-300,"y":-300},
{"l":"D4","x":294,"y":-5},{"l":"D4","x":269,"y":27},{"l":"D4","x":199,"y":56},{"l":"D4","x":154,"y":92},{"l":"D4","x":114,"y":160},{"l":"D4","x":79,"y":240},{"l":"D4","x":64,"y":370},{"l":"D4","x":49,"y":572},{"l":"D4","x":39,"y":789},{"l":"D4","x":24,"y":934},{"l":"D4","x":-5,"y":1012},{"l":"D4","x":-300,"y":-300},
{"l":"D5","x":-5,"y":164},{"l":"D5","x":29,"y":168},{"l":"D5","x":44,"y":204},{"l":"D5","x":47,"y":283},{"l":"D5","x":44,"y":500},{"l":"D5","x":34,"y":717},{"l":"D5","x":24,"y":898},{"l":"D5","x":-5,"y":997},
{"l":"D6","x":-5,"y":375},{"l":"D6","x":21,"y":384},{"l":"D6","x":34,"y":442},{"l":"D6","x":39,"y":572},{"l":"D6","x":29,"y":789},{"l":"D6","x":19,"y":919},{"l":"D6","x":-5,"y":986},
{"l":"D7","x":-5,"y":464},{"l":"D7","x":19,"y":478},{"l":"D7","x":29,"y":536},{"l":"D7","x":29,"y":717},{"l":"D7","x":14,"y":898},{"l":"D7","x":-5,"y":979},
{"l":"D8","x":-5,"y":511},{"l":"D8","x":14,"y":525},{"l":"D8","x":22,"y":645},{"l":"D8","x":17,"y":795},{"l":"D8","x":-5,"y":940},
{"l":"D9","x":-5,"y":536},{"l":"D9","x":8,"y":556},{"l":"D9","x":12,"y":650},{"l":"D9","x":5,"y":723},{"l":"D9","x":-5,"y":795},
{"l":"D10","x":-5,"y":809},{"l":"D10","x":14,"y":811},{"l":"D10","x":24,"y":861},{"l":"D10","x":39,"y":934},{"l":"D10","x":29,"y":984},{"l":"D10","x":-5,"y":1013},
{"l":"D11","x":1101,"y":-5},{"l":"D11","x":1144,"y":41},{"l":"D11","x":1209,"y":110},{"l":"D11","x":1279,"y":182},{"l":"D11","x":1339,"y":269},{"l":"D11","x":1369,"y":399},{"l":"D11","x":1389,"y":543},{"l":"D11","x":1409,"y":681},{"l":"D11","x":1429,"y":825},{"l":"D11","x":1454,"y":934},{"l":"D11","x":1479,"y":1002},{"l":"D11","x":1521,"y":1033},{"l":"D11","x":1900,"y":-300},
{"l":"D12","x":1144,"y":-5},{"l":"D12","x":1189,"y":45},{"l":"D12","x":1279,"y":95},{"l":"D12","x":1349,"y":160},{"l":"D12","x":1394,"y":276},{"l":"D12","x":1419,"y":399},{"l":"D12","x":1434,"y":543},{"l":"D12","x":1449,"y":681},{"l":"D12","x":1459,"y":825},{"l":"D12","x":1474,"y":948},{"l":"D12","x":1521,"y":1026},{"l":"D12","x":1900,"y":-300},
{"l":"D13","x":1169,"y":-5},{"l":"D13","x":1219,"y":48},{"l":"D13","x":1319,"y":81},{"l":"D13","x":1379,"y":139},{"l":"D13","x":1424,"y":240},{"l":"D13","x":1444,"y":356},{"l":"D13","x":1459,"y":572},{"l":"D13","x":1469,"y":789},{"l":"D13","x":1479,"y":963},{"l":"D13","x":1521,"y":1019},{"l":"D13","x":1900,"y":-300},
{"l":"D14","x":1199,"y":-5},{"l":"D14","x":1259,"y":38},{"l":"D14","x":1329,"y":74},{"l":"D14","x":1399,"y":153},{"l":"D14","x":1429,"y":247},{"l":"D14","x":1449,"y":377},{"l":"D14","x":1469,"y":572},{"l":"D14","x":1479,"y":789},{"l":"D14","x":1494,"y":948},{"l":"D14","x":1521,"y":1012},{"l":"D14","x":1900,"y":-300},
{"l":"D15","x":1521,"y":160},{"l":"D15","x":1489,"y":168},{"l":"D15","x":1474,"y":204},{"l":"D15","x":1469,"y":283},{"l":"D15","x":1474,"y":500},{"l":"D15","x":1479,"y":717},{"l":"D15","x":1499,"y":934},{"l":"D15","x":1521,"y":997},
{"l":"D16","x":1521,"y":375},{"l":"D16","x":1494,"y":384},{"l":"D16","x":1469,"y":457},{"l":"D16","x":1469,"y":645},{"l":"D16","x":1489,"y":861},{"l":"D16","x":1521,"y":986},
{"l":"D17","x":1521,"y":464},{"l":"D17","x":1494,"y":478},{"l":"D17","x":1484,"y":572},{"l":"D17","x":1489,"y":789},{"l":"D17","x":1521,"y":979},
{"l":"D18","x":1521,"y":511},{"l":"D18","x":1499,"y":533},{"l":"D18","x":1499,"y":645},{"l":"D18","x":1504,"y":789},{"l":"D18","x":1521,"y":936},
{"l":"D19","x":1521,"y":536},{"l":"D19","x":1509,"y":551},{"l":"D19","x":1509,"y":616},{"l":"D19","x":1521,"y":623},
{"l":"D20","x":1521,"y":791},{"l":"D20","x":1499,"y":825},{"l":"D20","x":1484,"y":934},{"l":"D20","x":1489,"y":984},{"l":"D20","x":1521,"y":1013},
{"l":"Ds1","x":30,"y":564},{"l":"Ds1","x":27,"y":723},{"l":"Ds1","x":20,"y":903},{"l":"Ds1","x":8,"y":997},{"l":"Ds2","x":52,"y":506},{"l":"Ds2","x":45,"y":723},{"l":"Ds2","x":32,"y":903},{"l":"Ds2","x":15,"y":990},{"l":"Ds3","x":62,"y":650},{"l":"Ds3","x":52,"y":795},{"l":"Ds3","x":38,"y":940},{"l":"Ds3","x":15,"y":1008},{"l":"Ds4","x":1486,"y":564},{"l":"Ds4","x":1489,"y":723},{"l":"Ds4","x":1496,"y":903},{"l":"Ds4","x":1508,"y":997},{"l":"Ds5","x":1464,"y":506},{"l":"Ds5","x":1471,"y":723},{"l":"Ds5","x":1484,"y":903},{"l":"Ds5","x":1501,"y":990},{"l":"Ds6","x":1454,"y":650},{"l":"Ds6","x":1464,"y":795},{"l":"Ds6","x":1478,"y":940},{"l":"Ds6","x":1501,"y":1008},
{"l":"Dt","x":114,"y":150,"a":-68,"t":"0.35"},{"l":"Dt","x":1264,"y":164,"a":60,"t":"0.05"},
{"l":"E0","x":-300,"y":-300},{"l":"E0","x":1900,"y":-300},{"l":"E0","x":1900,"y":1900},{"l":"E0","x":-300,"y":1900},
{"l":"E1","x":443,"y":-5},{"l":"E1","x":395,"y":66},{"l":"E1","x":315,"y":146},{"l":"E1","x":255,"y":211},{"l":"E1","x":215,"y":291},{"l":"E1","x":190,"y":392},{"l":"E1","x":160,"y":536},{"l":"E1","x":135,"y":681},{"l":"E1","x":115,"y":811},{"l":"E1","x":90,"y":934},{"l":"E1","x":60,"y":1006},{"l":"E1","x":-5,"y":1044},{"l":"E1","x":-300,"y":-300},
{"l":"E2","x":385,"y":-5},{"l":"E2","x":345,"y":52},{"l":"E2","x":265,"y":103},{"l":"E2","x":200,"y":160},{"l":"E2","x":165,"y":247},{"l":"E2","x":145,"y":356},{"l":"E2","x":125,"y":507},{"l":"E2","x":105,"y":652},{"l":"E2","x":85,"y":789},{"l":"E2","x":70,"y":934},{"l":"E2","x":45,"y":1006},{"l":"E2","x":-5,"y":1037},{"l":"E2","x":-300,"y":-300},
{"l":"E3","x":350,"y":-5},{"l":"E3","x":320,"y":38},{"l":"E3","x":240,"y":81},{"l":"E3","x":175,"y":124},{"l":"E3","x":135,"y":204},{"l":"E3","x":110,"y":319},{"l":"E3","x":95,"y":500},{"l":"E3","x":85,"y":645},{"l":"E3","x":65,"y":789},{"l":"E3","x":50,"y":934},{"l":"E3","x":-5,"y":1030},{"l":"E3","x":-300,"y":-300},
{"l":"E4","x":310,"y":-5},{"l":"E4","x":290,"y":30},{"l":"E4","x":205,"y":66},{"l":"E4","x":155,"y":117},{"l":"E4","x":120,"y":175},{"l":"E4","x":95,"y":283},{"l":"E4","x":85,"y":428},{"l":"E4","x":70,"y":645},{"l":"E4","x":55,"y":789},{"l":"E4","x":40,"y":934},{"l":"E4","x":-5,"y":1023},{"l":"E4","x":-300,"y":-300},
{"l":"E5","x":-5,"y":119},{"l":"E5","x":24,"y":123},{"l":"E5","x":50,"y":153},{"l":"E5","x":60,"y":225},{"l":"E5","x":62,"y":370},{"l":"E5","x":55,"y":572},{"l":"E5","x":40,"y":789},{"l":"E5","x":25,"y":934},{"l":"E5","x":-5,"y":1008},
{"l":"E6","x":-5,"y":356},{"l":"E6","x":21,"y":365},{"l":"E6","x":41,"y":413},{"l":"E6","x":48,"y":500},{"l":"E6","x":40,"y":717},{"l":"E6","x":25,"y":898},{"l":"E6","x":-5,"y":997},
{"l":"E7","x":-5,"y":455},{"l":"E7","x":15,"y":466},{"l":"E7","x":30,"y":507},{"l":"E7","x":30,"y":717},{"l":"E7","x":15,"y":898},{"l":"E7","x":-5,"y":990},
{"l":"E8","x":-5,"y":510},{"l":"E8","x":15,"y":522},{"l":"E8","x":25,"y":580},{"l":"E8","x":20,"y":789},{"l":"E8","x":-5,"y":940},
{"l":"E9","x":-5,"y":538},{"l":"E9","x":15,"y":546},{"l":"E9","x":18,"y":650},{"l":"E9","x":15,"y":744},{"l":"E9","x":-5,"y":752},
{"l":"E10","x":-5,"y":885},{"l":"E10","x":10,"y":889},{"l":"E10","x":25,"y":940},{"l":"E10","x":35,"y":976},{"l":"E10","x":20,"y":1012},{"l":"E10","x":-5,"y":1030},
{"l":"E11","x":1056,"y":-5},{"l":"E11","x":1096,"y":52},{"l":"E11","x":1176,"y":132},{"l":"E11","x":1246,"y":197},{"l":"E11","x":1296,"y":269},{"l":"E11","x":1326,"y":392},{"l":"E11","x":1356,"y":522},{"l":"E11","x":1386,"y":681},{"l":"E11","x":1406,"y":789},{"l":"E11","x":1436,"y":934},{"l":"E11","x":1466,"y":1006},{"l":"E11","x":1521,"y":1049},{"l":"E11","x":1900,"y":-300},
{"l":"E12","x":1106,"y":-5},{"l":"E12","x":1156,"y":59},{"l":"E12","x":1256,"y":124},{"l":"E12","x":1316,"y":182},{"l":"E12","x":1366,"y":291},{"l":"E12","x":1386,"y":392},{"l":"E12","x":1406,"y":536},{"l":"E12","x":1426,"y":681},{"l":"E12","x":1446,"y":825},{"l":"E12","x":1466,"y":963},{"l":"E12","x":1521,"y":1041},{"l":"E12","x":1900,"y":-300},
{"l":"E13","x":1146,"y":-5},{"l":"E13","x":1196,"y":52},{"l":"E13","x":1296,"y":103},{"l":"E13","x":1346,"y":168},{"l":"E13","x":1386,"y":247},{"l":"E13","x":1406,"y":363},{"l":"E13","x":1426,"y":543},{"l":"E13","x":1446,"y":717},{"l":"E13","x":1466,"y":898},{"l":"E13","x":1521,"y":1033},{"l":"E13","x":1900,"y":-300},
{"l":"E14","x":1196,"y":-5},{"l":"E14","x":1226,"y":38},{"l":"E14","x":1316,"y":74},{"l":"E14","x":1366,"y":124},{"l":"E14","x":1406,"y":189},{"l":"E14","x":1426,"y":291},{"l":"E14","x":1446,"y":500},{"l":"E14","x":1466,"y":717},{"l":"E14","x":1476,"y":898},{"l":"E14","x":1521,"y":1026},{"l":"E14","x":1900,"y":-300},
{"l":"E15","x":1521,"y":119},{"l":"E15","x":1496,"y":123},{"l":"E15","x":1470,"y":146},{"l":"E15","x":1461,"y":211},{"l":"E15","x":1456,"y":356},{"l":"E15","x":1456,"y":500},{"l":"E15","x":1466,"y":789},{"l":"E15","x":1486,"y":934},{"l":"E15","x":1521,"y":1008},
{"l":"E16","x":1521,"y":356},{"l":"E16","x":1496,"y":369},{"l":"E16","x":1481,"y":413},{"l":"E16","x":1475,"y":500},{"l":"E16","x":1481,"y":717},{"l":"E16","x":1500,"y":934},{"l":"E16","x":1521,"y":1001},
{"l":"E17","x":1521,"y":452},{"l":"E17","x":1496,"y":466},{"l":"E17","x":1486,"y":522},{"l":"E17","x":1490,"y":753},{"l":"E17","x":1521,"y":994},
{"l":"E18","x":1521,"y":510},{"l":"E18","x":1501,"y":524},{"l":"E18","x":1491,"y":580},{"l":"E18","x":1500,"y":789},{"l":"E18","x":1521,"y":932},
{"l":"E19","x":1521,"y":538},{"l":"E19","x":1505,"y":553},{"l":"E19","x":1508,"y":723},{"l":"E19","x":1521,"y":788},
{"l":"E20","x":1521,"y":911},{"l":"E20","x":1505,"y":932},{"l":"E20","x":1490,"y":972},{"l":"E20","x":1500,"y":1012},{"l":"E20","x":1521,"y":1030},
{"l":"Es1","x":30,"y":564},{"l":"Es1","x":27,"y":723},{"l":"Es1","x":20,"y":903},{"l":"Es1","x":8,"y":997},{"l":"Es2","x":52,"y":506},{"l":"Es2","x":45,"y":723},{"l":"Es2","x":32,"y":903},{"l":"Es2","x":15,"y":990},{"l":"Es3","x":62,"y":650},{"l":"Es3","x":52,"y":795},{"l":"Es3","x":38,"y":940},{"l":"Es3","x":15,"y":1008},{"l":"Es4","x":1486,"y":564},{"l":"Es4","x":1489,"y":723},{"l":"Es4","x":1496,"y":903},{"l":"Es4","x":1508,"y":997},{"l":"Es5","x":1464,"y":506},{"l":"Es5","x":1471,"y":723},{"l":"Es5","x":1484,"y":903},{"l":"Es5","x":1501,"y":990},{"l":"Es6","x":1454,"y":650},{"l":"Es6","x":1464,"y":795},{"l":"Es6","x":1478,"y":940},{"l":"Es6","x":1501,"y":1008},
{"l":"Et","x":176,"y":450,"a":-85,"t":"0.05"},{"l":"Et","x":1366,"y":128,"a":62,"t":"0.35"},
{"l":"F0","x":-300,"y":-300},{"l":"F0","x":1900,"y":-300},{"l":"F0","x":1900,"y":1900},{"l":"F0","x":-300,"y":1900},
{"l":"F1","x":-5,"y":1033},{"l":"F1","x":5,"y":1013},{"l":"F1","x":25,"y":934},{"l":"F1","x":40,"y":789},{"l":"F1","x":50,"y":645},{"l":"F1","x":55,"y":356},{"l":"F1","x":60,"y":182},{"l":"F1","x":84,"y":103},{"l":"F1","x":139,"y":63},{"l":"F1","x":268,"y":45},{"l":"F1","x":327,"y":27},{"l":"F1","x":347,"y":-5},{"l":"F1","x":347,"y":-60},{"l":"F1","x":1111,"y":-60},{"l":"F1","x":1111,"y":-5},{"l":"F1","x":1161,"y":38},{"l":"F1","x":1270,"y":56},{"l":"F1","x":1359,"y":66},{"l":"F1","x":1428,"y":117},{"l":"F1","x":1453,"y":211},{"l":"F1","x":1468,"y":572},{"l":"F1","x":1478,"y":789},{"l":"F1","x":1488,"y":934},{"l":"F1","x":1510,"y":1006},{"l":"F1","x":1533,"y":1033},
{"l":"F2","x":-5,"y":1035},{"l":"F2","x":20,"y":992},{"l":"F2","x":50,"y":861},{"l":"F2","x":64,"y":645},{"l":"F2","x":79,"y":428},{"l":"F2","x":89,"y":247},{"l":"F2","x":109,"y":175},{"l":"F2","x":144,"y":142},{"l":"F2","x":188,"y":135},{"l":"F2","x":248,"y":146},{"l":"F2","x":397,"y":193},{"l":"F2","x":546,"y":229},{"l":"F2","x":684,"y":249},{"l":"F2","x":843,"y":249},{"l":"F2","x":992,"y":229},{"l":"F2","x":1190,"y":189},{"l":"F2","x":1290,"y":153},{"l":"F2","x":1359,"y":153},{"l":"F2","x":1409,"y":204},{"l":"F2","x":1428,"y":356},{"l":"F2","x":1458,"y":572},{"l":"F2","x":1468,"y":789},{"l":"F2","x":1488,"y":963},{"l":"F2","x":1533,"y":1030},
{"l":"F3","x":-5,"y":1044},{"l":"F3","x":40,"y":934},{"l":"F3","x":60,"y":789},{"l":"F3","x":84,"y":572},{"l":"F3","x":99,"y":428},{"l":"F3","x":119,"y":370},{"l":"F3","x":149,"y":341},{"l":"F3","x":188,"y":341},{"l":"F3","x":268,"y":356},{"l":"F3","x":397,"y":363},{"l":"F3","x":556,"y":366},{"l":"F3","x":853,"y":370},{"l":"F3","x":1171,"y":371},{"l":"F3","x":1290,"y":366},{"l":"F3","x":1339,"y":356},{"l":"F3","x":1379,"y":370},{"l":"F3","x":1409,"y":442},{"l":"F3","x":1448,"y":717},{"l":"F3","x":1468,"y":861},{"l":"F3","x":1533,"y":1041},
{"l":"F4","x":-5,"y":1052},{"l":"F4","x":20,"y":1020},{"l":"F4","x":50,"y":934},{"l":"F4","x":74,"y":753},{"l":"F4","x":94,"y":609},{"l":"F4","x":119,"y":507},{"l":"F4","x":149,"y":482},{"l":"F4","x":417,"y":477},{"l":"F4","x":585,"y":471},{"l":"F4","x":764,"y":471},{"l":"F4","x":893,"y":477},{"l":"F4","x":1091,"y":491},{"l":"F4","x":1359,"y":502},{"l":"F4","x":1399,"y":529},{"l":"F4","x":1419,"y":594},{"l":"F4","x":1438,"y":717},{"l":"F4","x":1468,"y":919},{"l":"F4","x":1533,"y":1059},
{"l":"F5","x":-5,"y":1064},{"l":"F5","x":40,"y":1042},{"l":"F5","x":69,"y":970},{"l":"F5","x":89,"y":861},{"l":"F5","x":109,"y":731},{"l":"F5","x":139,"y":652},{"l":"F5","x":174,"y":634},{"l":"F5","x":347,"y":609},{"l":"F5","x":565,"y":588},{"l":"F5","x":853,"y":588},{"l":"F5","x":1091,"y":619},{"l":"F5","x":1339,"y":666},{"l":"F5","x":1379,"y":695},{"l":"F5","x":1409,"y":775},{"l":"F5","x":1438,"y":926},{"l":"F5","x":1468,"y":1035},{"l":"F5","x":1533,"y":1078},{"l":"F5","x":1560,"y":1200},{"l":"F5","x":1560,"y":1800},{"l":"F5","x":-50,"y":1800},
{"l":"F6","x":-5,"y":276},{"l":"F6","x":15,"y":283},{"l":"F6","x":30,"y":341},{"l":"F6","x":38,"y":500},{"l":"F6","x":33,"y":717},{"l":"F6","x":23,"y":919},{"l":"F6","x":-5,"y":1012},
{"l":"F7","x":-5,"y":434},{"l":"F7","x":15,"y":444},{"l":"F7","x":25,"y":500},{"l":"F7","x":25,"y":717},{"l":"F7","x":15,"y":919},{"l":"F7","x":-5,"y":1005},
{"l":"F8","x":-5,"y":502},{"l":"F8","x":12,"y":515},{"l":"F8","x":17,"y":572},{"l":"F8","x":15,"y":753},{"l":"F8","x":-5,"y":925},
{"l":"F9","x":-5,"y":538},{"l":"F9","x":8,"y":546},{"l":"F9","x":8,"y":752},{"l":"F9","x":-5,"y":755},
{"l":"F10","x":-5,"y":853},{"l":"F10","x":10,"y":860},{"l":"F10","x":25,"y":932},{"l":"F10","x":20,"y":990},{"l":"F10","x":-5,"y":1019},
{"l":"F11","x":1533,"y":269},{"l":"F11","x":1503,"y":283},{"l":"F11","x":1483,"y":370},{"l":"F11","x":1478,"y":500},{"l":"F11","x":1483,"y":717},{"l":"F11","x":1503,"y":919},{"l":"F11","x":1533,"y":1012},
{"l":"F12","x":1533,"y":430},{"l":"F12","x":1503,"y":444},{"l":"F12","x":1493,"y":500},{"l":"F12","x":1488,"y":717},{"l":"F12","x":1508,"y":919},{"l":"F12","x":1533,"y":1005},
{"l":"F13","x":1533,"y":502},{"l":"F13","x":1505,"y":517},{"l":"F13","x":1498,"y":572},{"l":"F13","x":1503,"y":753},{"l":"F13","x":1533,"y":925},
{"l":"F14","x":1533,"y":538},{"l":"F14","x":1510,"y":546},{"l":"F14","x":1510,"y":752},{"l":"F14","x":1533,"y":755},
{"l":"F15","x":1533,"y":795},{"l":"F15","x":1513,"y":853},{"l":"F15","x":1498,"y":932},{"l":"F15","x":1503,"y":990},{"l":"F15","x":1533,"y":1026},
{"l":"Fs1","x":30,"y":564},{"l":"Fs1","x":27,"y":723},{"l":"Fs1","x":20,"y":903},{"l":"Fs1","x":8,"y":997},{"l":"Fs2","x":45,"y":506},{"l":"Fs2","x":40,"y":723},{"l":"Fs2","x":32,"y":903},{"l":"Fs2","x":15,"y":990},{"l":"Fs3","x":62,"y":650},{"l":"Fs3","x":52,"y":795},{"l":"Fs3","x":38,"y":940},{"l":"Fs3","x":15,"y":1008},{"l":"Fs4","x":1486,"y":564},{"l":"Fs4","x":1489,"y":723},{"l":"Fs4","x":1496,"y":903},{"l":"Fs4","x":1508,"y":997},{"l":"Fs5","x":1470,"y":506},{"l":"Fs5","x":1476,"y":723},{"l":"Fs5","x":1484,"y":903},{"l":"Fs5","x":1501,"y":990},{"l":"Fs6","x":1454,"y":650},{"l":"Fs6","x":1464,"y":795},{"l":"Fs6","x":1478,"y":940},{"l":"Fs6","x":1501,"y":1008},
{"l":"Ft","x":754,"y":249,"a":0,"t":"0.35"},{"l":"Ft","x":702,"y":588,"a":0,"t":"0.05"},
{"l":"G0","x":-300,"y":-300},{"l":"G0","x":1900,"y":-300},{"l":"G0","x":1900,"y":1900},{"l":"G0","x":-300,"y":1900},
{"l":"G1","x":454,"y":-5},{"l":"G1","x":379,"y":97},{"l":"G1","x":309,"y":147},{"l":"G1","x":219,"y":287},{"l":"G1","x":169,"y":467},{"l":"G1","x":129,"y":657},{"l":"G1","x":84,"y":847},{"l":"G1","x":54,"y":957},{"l":"G1","x":19,"y":1009},{"l":"G1","x":-5,"y":1005},{"l":"G1","x":-300,"y":-300},
{"l":"G2","x":364,"y":-5},{"l":"G2","x":299,"y":67},{"l":"G2","x":199,"y":127},{"l":"G2","x":129,"y":197},{"l":"G2","x":99,"y":297},{"l":"G2","x":84,"y":497},{"l":"G2","x":54,"y":777},{"l":"G2","x":29,"y":927},{"l":"G2","x":-5,"y":972},{"l":"G2","x":-300,"y":-300},
{"l":"G3","x":339,"y":-5},{"l":"G3","x":259,"y":52},{"l":"G3","x":159,"y":112},{"l":"G3","x":109,"y":177},{"l":"G3","x":79,"y":272},{"l":"G3","x":64,"y":437},{"l":"G3","x":49,"y":707},{"l":"G3","x":24,"y":877},{"l":"G3","x":-5,"y":927},{"l":"G3","x":-300,"y":-300},
{"l":"G4","x":329,"y":-5},{"l":"G4","x":219,"y":60},{"l":"G4","x":139,"y":102},{"l":"G4","x":94,"y":167},{"l":"G4","x":69,"y":252},{"l":"G4","x":54,"y":397},{"l":"G4","x":44,"y":647},{"l":"G4","x":-5,"y":872},{"l":"G4","x":-300,"y":-300},
{"l":"G5","x":319,"y":-5},{"l":"G5","x":199,"y":50},{"l":"G5","x":129,"y":90},{"l":"G5","x":84,"y":157},{"l":"G5","x":59,"y":237},{"l":"G5","x":44,"y":377},{"l":"G5","x":34,"y":597},{"l":"G5","x":-5,"y":797},{"l":"G5","x":-300,"y":-300},
{"l":"G6","x":309,"y":-5},{"l":"G6","x":179,"y":42},{"l":"G6","x":119,"y":77},{"l":"G6","x":74,"y":147},{"l":"G6","x":49,"y":227},{"l":"G6","x":34,"y":357},{"l":"G6","x":24,"y":547},{"l":"G6","x":-5,"y":712},{"l":"G6","x":-300,"y":-300},
{"l":"G7","x":290,"y":-5},{"l":"G7","x":169,"y":32},{"l":"G7","x":109,"y":67},{"l":"G7","x":64,"y":137},{"l":"G7","x":39,"y":217},{"l":"G7","x":24,"y":347},{"l":"G7","x":14,"y":517},{"l":"G7","x":-5,"y":617},{"l":"G7","x":-300,"y":-300},
{"l":"G8","x":1127,"y":-5},{"l":"G8","x":1179,"y":62},{"l":"G8","x":1289,"y":122},{"l":"G8","x":1359,"y":207},{"l":"G8","x":1399,"y":337},{"l":"G8","x":1424,"y":477},{"l":"G8","x":1449,"y":697},{"l":"G8","x":1474,"y":857},{"l":"G8","x":1499,"y":957},{"l":"G8","x":1521,"y":985},{"l":"G8","x":1900,"y":-300},
{"l":"G9","x":1154,"y":-5},{"l":"G9","x":1209,"y":47},{"l":"G9","x":1309,"y":97},{"l":"G9","x":1399,"y":197},{"l":"G9","x":1434,"y":337},{"l":"G9","x":1459,"y":597},{"l":"G9","x":1479,"y":817},{"l":"G9","x":1499,"y":917},{"l":"G9","x":1521,"y":937},{"l":"G9","x":1900,"y":-300},
{"l":"G10","x":1174,"y":-5},{"l":"G10","x":1229,"y":47},{"l":"G10","x":1329,"y":87},{"l":"G10","x":1419,"y":207},{"l":"G10","x":1444,"y":337},{"l":"G10","x":1469,"y":617},{"l":"G10","x":1499,"y":857},{"l":"G10","x":1521,"y":882},{"l":"G10","x":1900,"y":-300},
{"l":"Gs1","x":1049,"y":-5},{"l":"Gs1","x":1194,"y":152},{"l":"Gs1","x":1289,"y":297},{"l":"Gs1","x":1344,"y":487},{"l":"Gs1","x":1384,"y":667},{"l":"Gs1","x":1424,"y":847},{"l":"Gs1","x":1459,"y":977},{"l":"Gs1","x":1499,"y":1015},{"l":"Gs1","x":1521,"y":1002},
{"l":"Ga","x":437,"y":0,"a":40},{"l":"Ga","x":309,"y":147,"a":35},{"l":"Ga","x":214,"y":307,"a":10},{"l":"Ga","x":164,"y":477,"a":10},{"l":"Ga","x":129,"y":657,"a":10},{"l":"Ga","x":84,"y":842,"a":10},{"l":"Ga","x":1069,"y":27,"a":-40},{"l":"Ga","x":1194,"y":152,"a":-30},{"l":"Ga","x":1294,"y":307,"a":-15},{"l":"Ga","x":1344,"y":487,"a":-10},{"l":"Ga","x":1384,"y":667,"a":-10},{"l":"Ga","x":1424,"y":842,"a":-10},
{"l":"Gc","x":698,"y":1679,"t":"("},{"l":"Gc","x":822,"y":1679,"t":")"},{"l":"Gb","x":758,"y":1679,"t":"a"},
{"l":"H0","x":-300,"y":-300},{"l":"H0","x":1900,"y":-300},{"l":"H0","x":1900,"y":1900},{"l":"H0","x":-300,"y":1900},
{"l":"H1","x":414,"y":-5},{"l":"H1","x":326,"y":77},{"l":"H1","x":206,"y":167},{"l":"H1","x":156,"y":287},{"l":"H1","x":126,"y":477},{"l":"H1","x":96,"y":647},{"l":"H1","x":66,"y":817},{"l":"H1","x":36,"y":947},{"l":"H1","x":-5,"y":985},{"l":"H1","x":-300,"y":-300},
{"l":"H2","x":361,"y":-5},{"l":"H2","x":276,"y":72},{"l":"H2","x":156,"y":137},{"l":"H2","x":106,"y":257},{"l":"H2","x":71,"y":497},{"l":"H2","x":41,"y":717},{"l":"H2","x":26,"y":857},{"l":"H2","x":-5,"y":917},{"l":"H2","x":-300,"y":-300},
{"l":"H3","x":331,"y":-5},{"l":"H3","x":236,"y":62},{"l":"H3","x":126,"y":122},{"l":"H3","x":81,"y":257},{"l":"H3","x":46,"y":477},{"l":"H3","x":21,"y":697},{"l":"H3","x":-5,"y":817},{"l":"H3","x":-300,"y":-300},
{"l":"H4","x":296,"y":-5},{"l":"H4","x":176,"y":47},{"l":"H4","x":91,"y":107},{"l":"H4","x":66,"y":207},{"l":"H4","x":41,"y":397},{"l":"H4","x":21,"y":597},{"l":"H4","x":-5,"y":692},{"l":"H4","x":-300,"y":-300},
{"l":"H5","x":286,"y":-5},{"l":"H5","x":161,"y":9},{"l":"H5","x":71,"y":27},{"l":"H5","x":31,"y":67},{"l":"H5","x":18,"y":127},{"l":"H5","x":4,"y":537},{"l":"H5","x":-5,"y":545},{"l":"H5","x":-300,"y":-300},
{"l":"H6","x":1081,"y":-5},{"l":"H6","x":1166,"y":77},{"l":"H6","x":1286,"y":167},{"l":"H6","x":1346,"y":267},{"l":"H6","x":1386,"y":447},{"l":"H6","x":1426,"y":677},{"l":"H6","x":1466,"y":867},{"l":"H6","x":1500,"y":965},{"l":"H6","x":1521,"y":992},{"l":"H6","x":1900,"y":-300},
{"l":"H7","x":1131,"y":-5},{"l":"H7","x":1206,"y":47},{"l":"H7","x":1316,"y":82},{"l":"H7","x":1396,"y":197},{"l":"H7","x":1436,"y":347},{"l":"H7","x":1466,"y":597},{"l":"H7","x":1496,"y":837},{"l":"H7","x":1521,"y":927},{"l":"H7","x":1900,"y":-300},
{"l":"H8","x":1166,"y":-5},{"l":"H8","x":1226,"y":42},{"l":"H8","x":1336,"y":77},{"l":"H8","x":1416,"y":177},{"l":"H8","x":1451,"y":347},{"l":"H8","x":1481,"y":597},{"l":"H8","x":1521,"y":827},{"l":"H8","x":1900,"y":-300},
{"l":"Hs1","x":639,"y":-5},{"l":"Hs1","x":521,"y":192},{"l":"Hs1","x":414,"y":397},{"l":"Hs1","x":323,"y":612},{"l":"Hs1","x":233,"y":822},{"l":"Hs1","x":134,"y":1027},{"l":"Hs1","x":116,"y":1097},{"l":"Hs1","x":126,"y":1147},{"l":"Hs1","x":196,"y":1227},{"l":"Hs1","x":246,"y":1317},{"l":"Hs1","x":251,"y":1427},{"l":"Hs1","x":241,"y":1447},{"l":"Hs1","x":146,"y":1447},{"l":"Hs1","x":76,"y":1407},{"l":"Hs1","x":51,"y":1347},{"l":"Hs1","x":26,"y":1197},{"l":"Hs1","x":-5,"y":1100},
{"l":"Hs2","x":851,"y":-5},{"l":"Hs2","x":901,"y":77},{"l":"Hs2","x":1031,"y":262},{"l":"Hs2","x":1131,"y":472},{"l":"Hs2","x":1221,"y":677},{"l":"Hs2","x":1311,"y":887},{"l":"Hs2","x":1371,"y":1037},{"l":"Hs2","x":1364,"y":1102},{"l":"Hs2","x":1266,"y":1247},{"l":"Hs2","x":1236,"y":1302},{"l":"Hs2","x":1226,"y":1417},{"l":"Hs2","x":1241,"y":1467},{"l":"Hs2","x":1296,"y":1472},{"l":"Hs2","x":1396,"y":1462},{"l":"Hs2","x":1456,"y":1417},{"l":"Hs2","x":1476,"y":1357},{"l":"Hs2","x":1496,"y":1247},{"l":"Hs2","x":1521,"y":1110},
{"l":"Ha","x":639,"y":0,"a":25},{"l":"Ha","x":521,"y":192,"a":25},{"l":"Ha","x":414,"y":397,"a":20},{"l":"Ha","x":323,"y":612,"a":20},{"l":"Ha","x":233,"y":822,"a":20},{"l":"Ha","x":134,"y":1027,"a":10},{"l":"Ha","x":196,"y":1227,"a":-30},{"l":"Ha","x":241,"y":1447,"a":90},{"l":"Ha","x":51,"y":1347,"a":170},{"l":"Ha","x":901,"y":77,"a":-30},{"l":"Ha","x":1031,"y":262,"a":-25},{"l":"Ha","x":1131,"y":472,"a":-20},{"l":"Ha","x":1221,"y":677,"a":-20},{"l":"Ha","x":1311,"y":887,"a":-15},{"l":"Ha","x":1364,"y":1102,"a":30},{"l":"Ha","x":1236,"y":1302,"a":15},{"l":"Ha","x":1296,"y":1472,"a":-90},{"l":"Ha","x":1476,"y":1357,"a":190},
{"l":"Hc","x":698,"y":1679,"t":"("},{"l":"Hc","x":822,"y":1679,"t":")"},{"l":"Hb","x":758,"y":1679,"t":"b"},
{"l":"I0","x":-300,"y":-300},{"l":"I0","x":1900,"y":-300},{"l":"I0","x":1900,"y":1900},{"l":"I0","x":-300,"y":1900},
{"l":"I1","x":716,"y":-5},{"l":"I1","x":635,"y":42},{"l":"I1","x":397,"y":82},{"l":"I1","x":179,"y":107},{"l":"I1","x":114,"y":147},{"l":"I1","x":89,"y":257},{"l":"I1","x":74,"y":477},{"l":"I1","x":55,"y":697},{"l":"I1","x":30,"y":897},{"l":"I1","x":-5,"y":990},{"l":"I1","x":-300,"y":-300},
{"l":"I2","x":635,"y":-5},{"l":"I2","x":377,"y":57},{"l":"I2","x":159,"y":92},{"l":"I2","x":94,"y":137},{"l":"I2","x":69,"y":237},{"l":"I2","x":55,"y":477},{"l":"I2","x":40,"y":697},{"l":"I2","x":20,"y":877},{"l":"I2","x":-5,"y":942},{"l":"I2","x":-300,"y":-300},
{"l":"I3","x":550,"y":-5},{"l":"I3","x":327,"y":45},{"l":"I3","x":139,"y":77},{"l":"I3","x":79,"y":127},{"l":"I3","x":55,"y":237},{"l":"I3","x":40,"y":477},{"l":"I3","x":22,"y":697},{"l":"I3","x":-5,"y":857},{"l":"I3","x":-300,"y":-300},
{"l":"I4","x":466,"y":-5},{"l":"I4","x":278,"y":37},{"l":"I4","x":119,"y":62},{"l":"I4","x":60,"y":112},{"l":"I4","x":40,"y":237},{"l":"I4","x":25,"y":477},{"l":"I4","x":-5,"y":767},{"l":"I4","x":-300,"y":-300},
{"l":"I5","x":377,"y":-5},{"l":"I5","x":198,"y":27},{"l":"I5","x":89,"y":45},{"l":"I5","x":45,"y":92},{"l":"I5","x":25,"y":197},{"l":"I5","x":12,"y":477},{"l":"I5","x":-5,"y":657},{"l":"I5","x":-300,"y":-300},
{"l":"I6","x":298,"y":-5},{"l":"I6","x":198,"y":9},{"l":"I6","x":89,"y":22},{"l":"I6","x":35,"y":67},{"l":"I6","x":15,"y":167},{"l":"I6","x":5,"y":297},{"l":"I6","x":-5,"y":542},{"l":"I6","x":-300,"y":-300},
{"l":"I7","x":792,"y":-5},{"l":"I7","x":853,"y":37},{"l":"I7","x":1161,"y":92},{"l":"I7","x":1339,"y":102},{"l":"I7","x":1399,"y":147},{"l":"I7","x":1428,"y":297},{"l":"I7","x":1458,"y":697},{"l":"I7","x":1483,"y":897},{"l":"I7","x":1521,"y":990},{"l":"I7","x":1900,"y":-300},
{"l":"I8","x":873,"y":-5},{"l":"I8","x":1171,"y":67},{"l":"I8","x":1359,"y":92},{"l":"I8","x":1428,"y":147},{"l":"I8","x":1458,"y":297},{"l":"I8","x":1478,"y":597},{"l":"I8","x":1498,"y":797},{"l":"I8","x":1521,"y":937},{"l":"I8","x":1900,"y":-300},
{"l":"I9","x":942,"y":-5},{"l":"I9","x":1210,"y":57},{"l":"I9","x":1369,"y":72},{"l":"I9","x":1438,"y":127},{"l":"I9","x":1463,"y":247},{"l":"I9","x":1478,"y":497},{"l":"I9","x":1513,"y":862},{"l":"I9","x":1521,"y":868},{"l":"I9","x":1900,"y":-300},
{"l":"I10","x":188,"y":132},{"l":"I10","x":149,"y":172},{"l":"I10","x":144,"y":217},{"l":"I10","x":164,"y":257},{"l":"I10","x":208,"y":262},{"l":"I10","x":397,"y":237},{"l":"I10","x":595,"y":192},{"l":"I10","x":655,"y":147},{"l":"I10","x":660,"y":117},{"l":"I10","x":625,"y":100},{"l":"I10","x":496,"y":107},{"l":"I10","x":347,"y":122},{"l":"I10","x":188,"y":132},
{"l":"I11","x":833,"y":112},{"l":"I11","x":833,"y":147},{"l":"I11","x":883,"y":202},{"l":"I11","x":992,"y":237},{"l":"I11","x":1141,"y":262},{"l":"I11","x":1319,"y":282},{"l":"I11","x":1359,"y":257},{"l":"I11","x":1374,"y":197},{"l":"I11","x":1349,"y":147},{"l":"I11","x":1290,"y":127},{"l":"I11","x":1091,"y":117},{"l":"I11","x":942,"y":105},{"l":"I11","x":853,"y":100},{"l":"I11","x":833,"y":112},
{"l":"Is1","x":246,"y":1162},{"l":"Is1","x":169,"y":1192},{"l":"Is1","x":136,"y":1282},{"l":"Is1","x":169,"y":1372},{"l":"Is1","x":246,"y":1402},{"l":"Is1","x":325,"y":1372},{"l":"Is1","x":357,"y":1282},{"l":"Is1","x":325,"y":1192},{"l":"Is1","x":246,"y":1162},
{"l":"Is2","x":1240,"y":1125},{"l":"Is2","x":1146,"y":1167},{"l":"Is2","x":1109,"y":1265},{"l":"Is2","x":1146,"y":1362},{"l":"Is2","x":1240,"y":1407},{"l":"Is2","x":1334,"y":1362},{"l":"Is2","x":1369,"y":1265},{"l":"Is2","x":1334,"y":1167},{"l":"Is2","x":1240,"y":1125},
{"l":"Ia","x":159,"y":1212,"a":-140},{"l":"Ia","x":303,"y":1177,"a":-40},{"l":"Ia","x":134,"y":1317,"a":170},{"l":"Ia","x":352,"y":1337,"a":30},{"l":"Ia","x":268,"y":1402,"a":95},{"l":"Ia","x":1195,"y":1132,"a":75},{"l":"Ia","x":1369,"y":1287,"a":170},{"l":"Ia","x":1161,"y":1377,"a":-60},{"l":"Ia","x":77,"y":422,"a":0},{"l":"Ia","x":52,"y":697,"a":0},{"l":"Ia","x":109,"y":152,"a":0},{"l":"Ia","x":1430,"y":422,"a":0},{"l":"Ia","x":1409,"y":152,"a":-5},{"l":"Ia","x":635,"y":42,"a":60},{"l":"Ia","x":347,"y":87,"a":60},{"l":"Ia","x":873,"y":42,"a":-65},{"l":"Ia","x":1151,"y":87,"a":-65},
{"l":"Ic","x":698,"y":1679,"t":"("},{"l":"Ic","x":822,"y":1679,"t":")"},{"l":"Ib","x":758,"y":1679,"t":"c"}
]},
"data":{"name":"pts"},
"transform":[{"lookup":"l","from":{"data":{"name":"lines"},"key":"l","fields":["p","k"]}},{"calculate":"datum.p[0]","as":"r"},{"calculate":"datum.p[1]","as":"c"}],
"spacing":0,
"vconcat":[
{"transform":[{"filter":"datum.k!='_c'&&datum.k!='_b'"}],
"facet":{"row":{"field":"r","type":"nominal","header":null},"column":{"field":"c","type":"nominal","header":null}},
"spacing":{"row":0,"column":288},
"spec":{"width":804,"height":803,
"encoding":{"x":{"field":"x","type":"quantitative","axis":null,"scale":{"domain":[0,1516],"nice":false,"zero":false}},"y":{"field":"y","type":"quantitative","axis":null,"scale":{"domain":[1513,0],"nice":false,"zero":false}}},
"layer":[
{"transform":[{"filter":"datum.k[0]!='_'"}],"mark":{"type":"line","interpolate":"catmull-rom","clip":true,"order":null,"stroke":"transparent","strokeWidth":0},"encoding":{"detail":{"field":"l"},"fill":{"field":"k","type":"nominal","legend":null,"scale":{"domain":["r1","r2","r2c","r3","r4","r5","r6","r7","w","ww","b7","b6","b5","b5c","b4","b3","b2","b1","b1c","b0","kk","g","h","p1","p2","p3","m1","m2","e","b4g"],"range":["#ae1729","#cc4740","#d25c4c","#e27259","#f19b76","#f5bba0","#fddac5","#fae8dc","#f6f3ef","#f7f7f7","#eff3f7","#deebf3","#d0e4ef","#bbd7e9","#a8cce2","#7fb4d7","#5a9ac8","#3d80bb","#4a8fc1","#2166ac","#000000","#87b6d7","#9dc4de","#fcc5ac","#f7b799","#fac8ae","#6aa9d0","#5c9ecd","#e9f1f6","#b5d3e8"]}}}},
{"transform":[{"filter":"datum.k[0]!='_'||datum.k=='_s'"}],"mark":{"type":"line","interpolate":"catmull-rom","clip":true,"order":null,"stroke":"#000000","strokeWidth":1.8},"encoding":{"detail":{"field":"l"}}},
{"transform":[{"filter":"datum.k=='_x'"}],"mark":{"type":"line","interpolate":"linear","clip":true,"order":null,"stroke":"#000000","strokeWidth":1.5},"encoding":{"detail":{"field":"l"}}},
{"transform":[{"filter":"datum.k=='_a'"}],"mark":{"type":"point","shape":"M-0.4,1L0,0L0.4,1","filled":false,"opacity":1,"stroke":"#000000","strokeWidth":1.8,"size":4600,"clip":true},"encoding":{"angle":{"field":"a","type":"quantitative","scale":null}}},
{"transform":[{"filter":"datum.k=='_t'"}],"mark":{"type":"text","font":"Liberation Sans","fontSize":40,"align":"center","baseline":"middle","color":"#000000"},"encoding":{"text":{"field":"t"},"angle":{"field":"a","type":"quantitative","scale":null}}}
]}},
{"transform":[{"filter":"datum.k=='_c'||datum.k=='_b'"}],
"facet":{"column":{"field":"c","type":"nominal","header":null}},
"spacing":{"column":288},
"spec":{"width":804,"height":116,
"encoding":{"x":{"field":"x","type":"quantitative","axis":null,"scale":{"domain":[0,1516],"nice":false,"zero":false}},"y":{"field":"y","type":"quantitative","axis":null,"scale":{"domain":[1732,1513],"nice":false,"zero":false}}},
"layer":[
{"transform":[{"filter":"datum.k=='_c'"}],"mark":{"type":"text","font":"Liberation Serif","fontSize":85,"align":"center","baseline":"alphabetic","color":"#000000"},"encoding":{"text":{"field":"t"}}},
{"transform":[{"filter":"datum.k=='_b'"}],"mark":{"type":"text","font":"Liberation Serif","fontSize":85,"fontWeight":"bold","align":"center","baseline":"alphabetic","color":"#000000"},"encoding":{"text":{"field":"t"}}}
]}}
],
"config":{"view":{"stroke":null}}}
